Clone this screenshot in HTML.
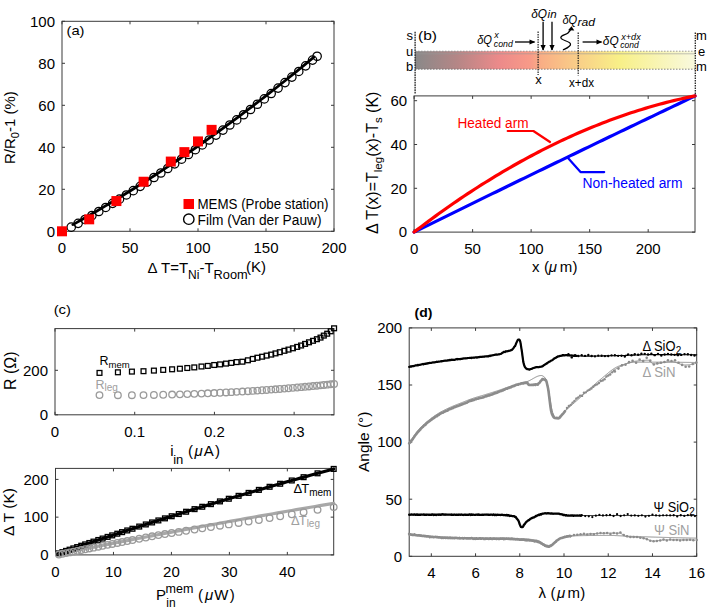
<!DOCTYPE html>
<html><head><meta charset="utf-8"><style>
html,body{margin:0;padding:0;background:#fff;}
svg{display:block;font-family:"Liberation Sans",sans-serif;}
</style></head><body>
<svg width="709" height="608" viewBox="0 0 709 608">
<rect width="709" height="608" fill="#fff"/>
<rect x="62.00" y="21.30" width="272.00" height="210.00" fill="none" stroke="#3a3a3a" stroke-width="1"/>
<line x1="62.00" y1="231.30" x2="62.00" y2="228.30" stroke="#3a3a3a" stroke-width="1"/>
<line x1="62.00" y1="21.30" x2="62.00" y2="24.30" stroke="#3a3a3a" stroke-width="1"/>
<text x="62.00" y="252.60" font-size="15" text-anchor="middle" fill="#000">0</text>
<line x1="130.00" y1="231.30" x2="130.00" y2="228.30" stroke="#3a3a3a" stroke-width="1"/>
<line x1="130.00" y1="21.30" x2="130.00" y2="24.30" stroke="#3a3a3a" stroke-width="1"/>
<text x="130.00" y="252.60" font-size="15" text-anchor="middle" fill="#000">50</text>
<line x1="198.00" y1="231.30" x2="198.00" y2="228.30" stroke="#3a3a3a" stroke-width="1"/>
<line x1="198.00" y1="21.30" x2="198.00" y2="24.30" stroke="#3a3a3a" stroke-width="1"/>
<text x="198.00" y="252.60" font-size="15" text-anchor="middle" fill="#000">100</text>
<line x1="266.00" y1="231.30" x2="266.00" y2="228.30" stroke="#3a3a3a" stroke-width="1"/>
<line x1="266.00" y1="21.30" x2="266.00" y2="24.30" stroke="#3a3a3a" stroke-width="1"/>
<text x="266.00" y="252.60" font-size="15" text-anchor="middle" fill="#000">150</text>
<line x1="334.00" y1="231.30" x2="334.00" y2="228.30" stroke="#3a3a3a" stroke-width="1"/>
<line x1="334.00" y1="21.30" x2="334.00" y2="24.30" stroke="#3a3a3a" stroke-width="1"/>
<text x="334.00" y="252.60" font-size="15" text-anchor="middle" fill="#000">200</text>
<line x1="62.00" y1="231.30" x2="65.00" y2="231.30" stroke="#3a3a3a" stroke-width="1"/>
<line x1="334.00" y1="231.30" x2="331.00" y2="231.30" stroke="#3a3a3a" stroke-width="1"/>
<text x="55.00" y="236.60" font-size="15" text-anchor="end" fill="#000">0</text>
<line x1="62.00" y1="189.30" x2="65.00" y2="189.30" stroke="#3a3a3a" stroke-width="1"/>
<line x1="334.00" y1="189.30" x2="331.00" y2="189.30" stroke="#3a3a3a" stroke-width="1"/>
<text x="55.00" y="194.60" font-size="15" text-anchor="end" fill="#000">20</text>
<line x1="62.00" y1="147.30" x2="65.00" y2="147.30" stroke="#3a3a3a" stroke-width="1"/>
<line x1="334.00" y1="147.30" x2="331.00" y2="147.30" stroke="#3a3a3a" stroke-width="1"/>
<text x="55.00" y="152.60" font-size="15" text-anchor="end" fill="#000">40</text>
<line x1="62.00" y1="105.30" x2="65.00" y2="105.30" stroke="#3a3a3a" stroke-width="1"/>
<line x1="334.00" y1="105.30" x2="331.00" y2="105.30" stroke="#3a3a3a" stroke-width="1"/>
<text x="55.00" y="110.60" font-size="15" text-anchor="end" fill="#000">60</text>
<line x1="62.00" y1="63.30" x2="65.00" y2="63.30" stroke="#3a3a3a" stroke-width="1"/>
<line x1="334.00" y1="63.30" x2="331.00" y2="63.30" stroke="#3a3a3a" stroke-width="1"/>
<text x="55.00" y="68.60" font-size="15" text-anchor="end" fill="#000">80</text>
<line x1="62.00" y1="21.30" x2="65.00" y2="21.30" stroke="#3a3a3a" stroke-width="1"/>
<line x1="334.00" y1="21.30" x2="331.00" y2="21.30" stroke="#3a3a3a" stroke-width="1"/>
<text x="55.00" y="26.60" font-size="15" text-anchor="end" fill="#000">100</text>
<text x="66.50" y="34.50" font-size="13.5" fill="#000" textLength="18" lengthAdjust="spacingAndGlyphs">(a)</text>
<polyline points="72.88,224.63 76.96,222.36 81.04,220.06 85.12,217.75 89.20,215.42 93.28,213.07 97.36,210.70 101.44,208.31 105.52,205.90 109.60,203.47 113.68,201.02 117.76,198.55 121.84,196.07 125.92,193.56 130.00,191.03 134.08,188.49 138.16,185.93 142.24,183.34 146.32,180.74 150.40,178.12 154.48,175.48 158.56,172.81 162.64,170.13 166.72,167.43 170.80,164.72 174.88,161.98 178.96,159.22 183.04,156.44 187.12,153.65 191.20,150.83 195.28,148.00 199.36,145.14 203.44,142.27 207.52,139.37 211.60,136.46 215.68,133.53 219.76,130.58 223.84,127.61 227.92,124.62 232.00,121.61 236.08,118.58 240.16,115.53 244.24,112.46 248.32,109.38 252.40,106.27 256.48,103.15 260.56,100.00 264.64,96.84 268.72,93.65 272.80,90.45 276.88,87.23 280.96,83.99 285.04,80.73 289.12,77.45 293.20,74.15 297.28,70.83 301.36,67.49 305.44,64.13 309.52,60.76 313.60,57.36" fill="none" stroke="#000" stroke-width="2.8" stroke-linejoin="round" stroke-linecap="round"/>
<circle cx="71.23" cy="227.18" r="4.2" fill="none" stroke="#000" stroke-width="1.25"/>
<circle cx="78.13" cy="223.35" r="4.2" fill="none" stroke="#000" stroke-width="1.25"/>
<circle cx="85.02" cy="219.46" r="4.2" fill="none" stroke="#000" stroke-width="1.25"/>
<circle cx="91.92" cy="215.52" r="4.2" fill="none" stroke="#000" stroke-width="1.25"/>
<circle cx="98.81" cy="211.52" r="4.2" fill="none" stroke="#000" stroke-width="1.25"/>
<circle cx="105.71" cy="207.46" r="4.2" fill="none" stroke="#000" stroke-width="1.25"/>
<circle cx="112.60" cy="203.35" r="4.2" fill="none" stroke="#000" stroke-width="1.25"/>
<circle cx="119.50" cy="199.18" r="4.2" fill="none" stroke="#000" stroke-width="1.25"/>
<circle cx="126.39" cy="194.96" r="4.2" fill="none" stroke="#000" stroke-width="1.25"/>
<circle cx="133.29" cy="190.68" r="4.2" fill="none" stroke="#000" stroke-width="1.25"/>
<circle cx="140.18" cy="186.35" r="4.2" fill="none" stroke="#000" stroke-width="1.25"/>
<circle cx="147.08" cy="181.97" r="4.2" fill="none" stroke="#000" stroke-width="1.25"/>
<circle cx="153.97" cy="177.52" r="4.2" fill="none" stroke="#000" stroke-width="1.25"/>
<circle cx="160.87" cy="173.03" r="4.2" fill="none" stroke="#000" stroke-width="1.25"/>
<circle cx="167.76" cy="168.47" r="4.2" fill="none" stroke="#000" stroke-width="1.25"/>
<circle cx="174.66" cy="163.86" r="4.2" fill="none" stroke="#000" stroke-width="1.25"/>
<circle cx="181.56" cy="159.20" r="4.2" fill="none" stroke="#000" stroke-width="1.25"/>
<circle cx="188.45" cy="154.48" r="4.2" fill="none" stroke="#000" stroke-width="1.25"/>
<circle cx="195.35" cy="149.71" r="4.2" fill="none" stroke="#000" stroke-width="1.25"/>
<circle cx="202.24" cy="144.88" r="4.2" fill="none" stroke="#000" stroke-width="1.25"/>
<circle cx="209.14" cy="139.99" r="4.2" fill="none" stroke="#000" stroke-width="1.25"/>
<circle cx="216.03" cy="135.05" r="4.2" fill="none" stroke="#000" stroke-width="1.25"/>
<circle cx="222.93" cy="130.06" r="4.2" fill="none" stroke="#000" stroke-width="1.25"/>
<circle cx="229.82" cy="125.01" r="4.2" fill="none" stroke="#000" stroke-width="1.25"/>
<circle cx="236.72" cy="119.90" r="4.2" fill="none" stroke="#000" stroke-width="1.25"/>
<circle cx="243.61" cy="114.74" r="4.2" fill="none" stroke="#000" stroke-width="1.25"/>
<circle cx="250.51" cy="109.52" r="4.2" fill="none" stroke="#000" stroke-width="1.25"/>
<circle cx="257.40" cy="104.25" r="4.2" fill="none" stroke="#000" stroke-width="1.25"/>
<circle cx="264.30" cy="98.93" r="4.2" fill="none" stroke="#000" stroke-width="1.25"/>
<circle cx="271.19" cy="93.54" r="4.2" fill="none" stroke="#000" stroke-width="1.25"/>
<circle cx="278.09" cy="88.11" r="4.2" fill="none" stroke="#000" stroke-width="1.25"/>
<circle cx="284.98" cy="82.61" r="4.2" fill="none" stroke="#000" stroke-width="1.25"/>
<circle cx="291.88" cy="77.07" r="4.2" fill="none" stroke="#000" stroke-width="1.25"/>
<circle cx="298.77" cy="71.46" r="4.2" fill="none" stroke="#000" stroke-width="1.25"/>
<circle cx="305.67" cy="65.80" r="4.2" fill="none" stroke="#000" stroke-width="1.25"/>
<circle cx="312.56" cy="60.09" r="4.2" fill="none" stroke="#000" stroke-width="1.25"/>
<circle cx="317.12" cy="56.28" r="4.2" fill="none" stroke="#000" stroke-width="1.25"/>
<rect x="57.00" y="226.30" width="10" height="10" fill="#f00"/>
<rect x="84.20" y="214.33" width="10" height="10" fill="#f00"/>
<rect x="111.40" y="196.06" width="10" height="10" fill="#f00"/>
<rect x="138.60" y="176.74" width="10" height="10" fill="#f00"/>
<rect x="165.80" y="156.58" width="10" height="10" fill="#f00"/>
<rect x="179.40" y="147.13" width="10" height="10" fill="#f00"/>
<rect x="193.00" y="136.42" width="10" height="10" fill="#f00"/>
<rect x="206.60" y="124.87" width="10" height="10" fill="#f00"/>
<rect x="183.5" y="199" width="10.5" height="10" fill="#f00"/>
<circle cx="188.8" cy="219.2" r="5.2" fill="none" stroke="#000" stroke-width="1.4"/>
<text x="197.50" y="209.00" font-size="14" fill="#000" textLength="131" lengthAdjust="spacingAndGlyphs">MEMS (Probe station)</text>
<text x="197.50" y="224.50" font-size="14" fill="#000" textLength="124" lengthAdjust="spacingAndGlyphs">Film (Van der Pauw)</text>
<text transform="translate(14.5,164) rotate(-90)" font-size="15">R/R<tspan font-size="11" dy="4">0</tspan><tspan dy="-4">-1 (%)</tspan></text>
<text x="147.50" y="272.70" font-size="15" fill="#000">Δ</text>
<text x="161" y="272.7" font-size="15">T=T<tspan font-size="12" dy="6.5">Ni</tspan><tspan dy="-6.5">-T</tspan><tspan font-size="12.8" dy="6.5">Room</tspan></text>
<text x="246.00" y="272.00" font-size="15" fill="#000">(K)</text>
<rect x="414.10" y="95.90" width="280.90" height="136.20" fill="none" stroke="#3a3a3a" stroke-width="1"/>
<line x1="414.10" y1="232.10" x2="414.10" y2="229.10" stroke="#3a3a3a" stroke-width="1"/>
<line x1="414.10" y1="95.90" x2="414.10" y2="98.90" stroke="#3a3a3a" stroke-width="1"/>
<text x="414.10" y="253.60" font-size="15" text-anchor="middle" fill="#000">0</text>
<line x1="472.62" y1="232.10" x2="472.62" y2="229.10" stroke="#3a3a3a" stroke-width="1"/>
<line x1="472.62" y1="95.90" x2="472.62" y2="98.90" stroke="#3a3a3a" stroke-width="1"/>
<text x="472.62" y="253.60" font-size="15" text-anchor="middle" fill="#000">50</text>
<line x1="531.14" y1="232.10" x2="531.14" y2="229.10" stroke="#3a3a3a" stroke-width="1"/>
<line x1="531.14" y1="95.90" x2="531.14" y2="98.90" stroke="#3a3a3a" stroke-width="1"/>
<text x="531.14" y="253.60" font-size="15" text-anchor="middle" fill="#000">100</text>
<line x1="589.66" y1="232.10" x2="589.66" y2="229.10" stroke="#3a3a3a" stroke-width="1"/>
<line x1="589.66" y1="95.90" x2="589.66" y2="98.90" stroke="#3a3a3a" stroke-width="1"/>
<text x="589.66" y="253.60" font-size="15" text-anchor="middle" fill="#000">150</text>
<line x1="648.18" y1="232.10" x2="648.18" y2="229.10" stroke="#3a3a3a" stroke-width="1"/>
<line x1="648.18" y1="95.90" x2="648.18" y2="98.90" stroke="#3a3a3a" stroke-width="1"/>
<text x="648.18" y="253.60" font-size="15" text-anchor="middle" fill="#000">200</text>
<line x1="414.10" y1="232.10" x2="417.10" y2="232.10" stroke="#3a3a3a" stroke-width="1"/>
<line x1="695.00" y1="232.10" x2="692.00" y2="232.10" stroke="#3a3a3a" stroke-width="1"/>
<text x="407.10" y="237.40" font-size="15" text-anchor="end" fill="#000">0</text>
<line x1="414.10" y1="188.30" x2="417.10" y2="188.30" stroke="#3a3a3a" stroke-width="1"/>
<line x1="695.00" y1="188.30" x2="692.00" y2="188.30" stroke="#3a3a3a" stroke-width="1"/>
<text x="407.10" y="193.60" font-size="15" text-anchor="end" fill="#000">20</text>
<line x1="414.10" y1="144.50" x2="417.10" y2="144.50" stroke="#3a3a3a" stroke-width="1"/>
<line x1="695.00" y1="144.50" x2="692.00" y2="144.50" stroke="#3a3a3a" stroke-width="1"/>
<text x="407.10" y="149.80" font-size="15" text-anchor="end" fill="#000">40</text>
<line x1="414.10" y1="100.70" x2="417.10" y2="100.70" stroke="#3a3a3a" stroke-width="1"/>
<line x1="695.00" y1="100.70" x2="692.00" y2="100.70" stroke="#3a3a3a" stroke-width="1"/>
<text x="407.10" y="106.00" font-size="15" text-anchor="end" fill="#000">60</text>
<polyline points="414.10,232.10 417.66,230.35 421.21,228.59 424.77,226.84 428.32,225.09 431.88,223.33 435.43,221.58 438.99,219.83 442.55,218.09 446.10,216.34 449.66,214.59 453.21,212.84 456.77,211.10 460.32,209.35 463.88,207.61 467.44,205.86 470.99,204.12 474.55,202.38 478.10,200.64 481.66,198.90 485.21,197.16 488.77,195.42 492.33,193.68 495.88,191.95 499.44,190.21 502.99,188.48 506.55,186.74 510.10,185.01 513.66,183.27 517.22,181.54 520.77,179.81 524.33,178.08 527.88,176.35 531.44,174.62 534.99,172.89 538.55,171.17 542.11,169.44 545.66,167.71 549.22,165.99 552.77,164.27 556.33,162.54 559.88,160.82 563.44,159.10 566.99,157.38 570.55,155.66 574.11,153.94 577.66,152.22 581.22,150.50 584.77,148.79 588.33,147.07 591.88,145.36 595.44,143.64 599.00,141.93 602.55,140.21 606.11,138.50 609.66,136.79 613.22,135.08 616.77,133.37 620.33,131.66 623.89,129.96 627.44,128.25 631.00,126.54 634.55,124.84 638.11,123.13 641.66,121.43 645.22,119.73 648.78,118.02 652.33,116.32 655.89,114.62 659.44,112.92 663.00,111.22 666.55,109.53 670.11,107.83 673.67,106.13 677.22,104.44 680.78,102.74 684.33,101.05 687.89,99.35 691.44,97.66 695.00,95.97" fill="none" stroke="#0000ff" stroke-width="3.2" stroke-linejoin="round" stroke-linecap="round"/>
<polyline points="414.10,232.10 417.66,229.38 421.21,226.68 424.77,224.00 428.32,221.35 431.88,218.73 435.43,216.14 438.99,213.56 442.55,211.02 446.10,208.50 449.66,206.01 453.21,203.54 456.77,201.09 460.32,198.68 463.88,196.29 467.44,193.92 470.99,191.58 474.55,189.27 478.10,186.98 481.66,184.72 485.21,182.48 488.77,180.27 492.33,178.08 495.88,175.92 499.44,173.79 502.99,171.68 506.55,169.59 510.10,167.54 513.66,165.50 517.22,163.50 520.77,161.52 524.33,159.56 527.88,157.63 531.44,155.73 534.99,153.85 538.55,152.00 542.11,150.17 545.66,148.37 549.22,146.60 552.77,144.85 556.33,143.12 559.88,141.43 563.44,139.75 566.99,138.11 570.55,136.49 574.11,134.89 577.66,133.32 581.22,131.78 584.77,130.26 588.33,128.77 591.88,127.30 595.44,125.86 599.00,124.44 602.55,123.05 606.11,121.69 609.66,120.35 613.22,119.03 616.77,117.75 620.33,116.48 623.89,115.25 627.44,114.04 631.00,112.85 634.55,111.69 638.11,110.56 641.66,109.45 645.22,108.37 648.78,107.31 652.33,106.28 655.89,105.28 659.44,104.30 663.00,103.35 666.55,102.42 670.11,101.52 673.67,100.64 677.22,99.79 680.78,98.96 684.33,98.16 687.89,97.39 691.44,96.64 695.00,95.92" fill="none" stroke="#ff0000" stroke-width="3.2" stroke-linejoin="round" stroke-linecap="round"/>
<text x="457.50" y="128.30" font-size="14" fill="#f00" textLength="71" lengthAdjust="spacingAndGlyphs">Heated arm</text>
<polyline points="507.70,131.00 533.40,131.00 550.00,142.00" fill="none" stroke="#f00" stroke-width="2.2" stroke-linejoin="round" stroke-linecap="round"/>
<text x="582.50" y="187.50" font-size="14" fill="#00f" textLength="100" lengthAdjust="spacingAndGlyphs">Non-heated arm</text>
<polyline points="568.00,158.00 580.50,172.10 604.20,172.10" fill="none" stroke="#00f" stroke-width="2.2" stroke-linejoin="round" stroke-linecap="round"/>
<defs><linearGradient id="gbar" x1="0" x2="1" y1="0" y2="0">
<stop offset="0" stop-color="#898989"/><stop offset="0.15" stop-color="#b58686"/><stop offset="0.30" stop-color="#ec8a8a"/>
<stop offset="0.41" stop-color="#f89a88"/><stop offset="0.45" stop-color="#f9ae85"/><stop offset="0.57" stop-color="#f9cc88"/><stop offset="0.73" stop-color="#f8f088"/><stop offset="1" stop-color="#f9f9df"/></linearGradient></defs>
<rect x="415" y="51.2" width="280.5" height="18" fill="url(#gbar)"/>
<line x1="415.00" y1="51.20" x2="695.50" y2="51.20" stroke="#888" stroke-width="0.8" stroke-dasharray="1.5,1.5"/>
<line x1="415.00" y1="53.80" x2="695.50" y2="53.80" stroke="#999" stroke-width="0.6"/>
<line x1="415.00" y1="69.20" x2="695.50" y2="69.20" stroke="#666" stroke-width="0.8" stroke-dasharray="1.5,1.5"/>
<line x1="415.10" y1="31.80" x2="415.10" y2="93.50" stroke="#222" stroke-width="1.3" stroke-dasharray="1.6,0.9"/>
<line x1="695.30" y1="32.50" x2="695.30" y2="95.50" stroke="#222" stroke-width="1.3" stroke-dasharray="1.6,0.9"/>
<line x1="538.10" y1="31.60" x2="538.10" y2="75.00" stroke="#222" stroke-width="1.2" stroke-dasharray="1.4,1.1"/>
<line x1="578.20" y1="32.60" x2="578.20" y2="75.60" stroke="#222" stroke-width="1.2" stroke-dasharray="1.4,1.1"/>
<text x="409.70" y="39.80" font-size="13" text-anchor="middle" fill="#000">s</text>
<text x="409.70" y="55.90" font-size="13" text-anchor="middle" fill="#000">u</text>
<text x="409.70" y="71.30" font-size="13" text-anchor="middle" fill="#000">b</text>
<text x="701.50" y="39.80" font-size="13" text-anchor="middle" fill="#000">m</text>
<text x="701.50" y="56.00" font-size="13" text-anchor="middle" fill="#000">e</text>
<text x="701.50" y="71.30" font-size="13" text-anchor="middle" fill="#000">m</text>
<text x="418.00" y="39.80" font-size="13.5" fill="#000" textLength="19" lengthAdjust="spacingAndGlyphs">(b)</text>
<text x="538.50" y="84.00" font-size="13" text-anchor="middle" fill="#000">x</text>
<text x="581.50" y="86.50" font-size="13" text-anchor="middle" fill="#000" textLength="25" lengthAdjust="spacingAndGlyphs">x+dx</text>
<line x1="515.00" y1="42.00" x2="534.50" y2="42.00" stroke="#000" stroke-width="1.3"/>
<polygon points="535.30,42.00 529.50,44.60 529.50,39.40" fill="#000"/>
<line x1="543.10" y1="21.70" x2="543.10" y2="50.00" stroke="#000" stroke-width="1.3"/>
<polygon points="543.10,50.80 540.50,45.00 545.70,45.00" fill="#000"/>
<line x1="552.00" y1="21.70" x2="552.00" y2="50.00" stroke="#000" stroke-width="1.3"/>
<polygon points="552.00,50.80 549.40,45.00 554.60,45.00" fill="#000"/>
<line x1="582.60" y1="42.00" x2="601.50" y2="42.00" stroke="#000" stroke-width="1.3"/>
<polygon points="602.30,42.00 596.50,44.60 596.50,39.40" fill="#000"/>
<path d="M563,50 C566,48.5 571,46.5 570.5,44 C570,41 561,40.5 560.8,37.8 C560.6,35 566,34.8 568,33 C569.5,31.6 570.6,30 571,28.5" fill="none" stroke="#000" stroke-width="1.25"/>
<polygon points="571.5,26.3 568,30.3 574.3,30.5" fill="#000"/>
<text x="477.20" y="43.60" font-size="12.5" font-style="italic" textLength="14.8" lengthAdjust="spacingAndGlyphs">δQ</text>
<text x="494.30" y="38.20" font-size="9" font-style="italic">x</text>
<text x="493.80" y="46.60" font-size="9" font-style="italic" textLength="19" lengthAdjust="spacingAndGlyphs">cond</text>
<text x="531.20" y="17.60" font-size="12.5" font-style="italic" textLength="15.8" lengthAdjust="spacingAndGlyphs">δQ</text>
<text x="547.60" y="18.20" font-size="11.5" font-style="italic" textLength="9" lengthAdjust="spacingAndGlyphs">in</text>
<text x="562.40" y="24.00" font-size="12.5" font-style="italic" textLength="14.8" lengthAdjust="spacingAndGlyphs">δQ</text>
<text x="577.60" y="25.60" font-size="11.5" font-style="italic" textLength="17.5" lengthAdjust="spacingAndGlyphs">rad</text>
<text x="602.80" y="44.80" font-size="12.5" font-style="italic" textLength="15.8" lengthAdjust="spacingAndGlyphs">δQ</text>
<text x="621.20" y="39.60" font-size="9" font-style="italic" textLength="19.5" lengthAdjust="spacingAndGlyphs">x+dx</text>
<text x="620.20" y="47.50" font-size="9" font-style="italic" textLength="18.5" lengthAdjust="spacingAndGlyphs">cond</text>
<text transform="translate(378,234) rotate(-90)" font-size="16">Δ T(x)=T<tspan font-size="11.5" dy="4">leg</tspan><tspan dy="-4">(x)-T</tspan><tspan font-size="11.5" dy="4">s</tspan><tspan dy="-4"> (K)</tspan></text>
<text x="535.80" y="272.40" font-size="15" text-anchor="middle" fill="#000">x</text>
<text x="546.60" y="272.40" font-size="15" text-anchor="middle" fill="#000">(</text>
<text x="552.90" y="272.40" font-size="15" text-anchor="middle" fill="#000" style="font-style:italic">μ</text>
<text x="566.00" y="272.40" font-size="15" text-anchor="middle" fill="#000">m</text>
<text x="575.00" y="272.40" font-size="15" text-anchor="middle" fill="#000">)</text>
<rect x="55.00" y="328.60" width="279.00" height="86.20" fill="none" stroke="#3a3a3a" stroke-width="1"/>
<line x1="55.00" y1="414.80" x2="55.00" y2="411.80" stroke="#3a3a3a" stroke-width="1"/>
<line x1="55.00" y1="328.60" x2="55.00" y2="331.60" stroke="#3a3a3a" stroke-width="1"/>
<text x="55.00" y="436.80" font-size="15" text-anchor="middle" fill="#000">0</text>
<line x1="134.71" y1="414.80" x2="134.71" y2="411.80" stroke="#3a3a3a" stroke-width="1"/>
<line x1="134.71" y1="328.60" x2="134.71" y2="331.60" stroke="#3a3a3a" stroke-width="1"/>
<text x="134.71" y="436.80" font-size="15" text-anchor="middle" fill="#000">0.1</text>
<line x1="214.43" y1="414.80" x2="214.43" y2="411.80" stroke="#3a3a3a" stroke-width="1"/>
<line x1="214.43" y1="328.60" x2="214.43" y2="331.60" stroke="#3a3a3a" stroke-width="1"/>
<text x="214.43" y="436.80" font-size="15" text-anchor="middle" fill="#000">0.2</text>
<line x1="294.14" y1="414.80" x2="294.14" y2="411.80" stroke="#3a3a3a" stroke-width="1"/>
<line x1="294.14" y1="328.60" x2="294.14" y2="331.60" stroke="#3a3a3a" stroke-width="1"/>
<text x="294.14" y="436.80" font-size="15" text-anchor="middle" fill="#000">0.3</text>
<line x1="55.00" y1="414.80" x2="58.00" y2="414.80" stroke="#3a3a3a" stroke-width="1"/>
<line x1="334.00" y1="414.80" x2="331.00" y2="414.80" stroke="#3a3a3a" stroke-width="1"/>
<text x="48.00" y="420.10" font-size="15" text-anchor="end" fill="#000">0</text>
<line x1="55.00" y1="370.30" x2="58.00" y2="370.30" stroke="#3a3a3a" stroke-width="1"/>
<line x1="334.00" y1="370.30" x2="331.00" y2="370.30" stroke="#3a3a3a" stroke-width="1"/>
<text x="48.00" y="375.60" font-size="15" text-anchor="end" fill="#000">200</text>
<text x="53.70" y="313.60" font-size="13" fill="#000" textLength="17.3" lengthAdjust="spacingAndGlyphs">(c)</text>
<rect x="97.10" y="370.50" width="4.8" height="4.8" fill="none" stroke="#000" stroke-width="1.3"/>
<rect x="115.50" y="369.90" width="4.8" height="4.8" fill="none" stroke="#000" stroke-width="1.3"/>
<rect x="129.50" y="369.20" width="4.8" height="4.8" fill="none" stroke="#000" stroke-width="1.3"/>
<rect x="141.10" y="368.80" width="4.8" height="4.8" fill="none" stroke="#000" stroke-width="1.3"/>
<rect x="151.50" y="368.20" width="4.8" height="4.8" fill="none" stroke="#000" stroke-width="1.3"/>
<rect x="160.80" y="367.50" width="4.8" height="4.8" fill="none" stroke="#000" stroke-width="1.3"/>
<rect x="169.70" y="366.90" width="4.8" height="4.8" fill="none" stroke="#000" stroke-width="1.3"/>
<rect x="177.50" y="366.30" width="4.8" height="4.8" fill="none" stroke="#000" stroke-width="1.3"/>
<rect x="184.90" y="365.60" width="4.8" height="4.8" fill="none" stroke="#000" stroke-width="1.3"/>
<rect x="191.90" y="365.00" width="4.8" height="4.8" fill="none" stroke="#000" stroke-width="1.3"/>
<rect x="199.10" y="364.10" width="4.8" height="4.8" fill="none" stroke="#000" stroke-width="1.3"/>
<rect x="205.40" y="363.50" width="4.8" height="4.8" fill="none" stroke="#000" stroke-width="1.3"/>
<rect x="211.80" y="362.60" width="4.8" height="4.8" fill="none" stroke="#000" stroke-width="1.3"/>
<rect x="217.70" y="362.00" width="4.8" height="4.8" fill="none" stroke="#000" stroke-width="1.3"/>
<rect x="223.60" y="361.20" width="4.8" height="4.8" fill="none" stroke="#000" stroke-width="1.3"/>
<rect x="228.90" y="360.50" width="4.8" height="4.8" fill="none" stroke="#000" stroke-width="1.3"/>
<rect x="234.20" y="359.70" width="4.8" height="4.8" fill="none" stroke="#000" stroke-width="1.3"/>
<rect x="240.00" y="359.30" width="4.8" height="4.8" fill="none" stroke="#000" stroke-width="1.3"/>
<rect x="245.50" y="357.90" width="4.8" height="4.8" fill="none" stroke="#000" stroke-width="1.3"/>
<rect x="250.40" y="356.50" width="4.8" height="4.8" fill="none" stroke="#000" stroke-width="1.3"/>
<rect x="255.00" y="355.30" width="4.8" height="4.8" fill="none" stroke="#000" stroke-width="1.3"/>
<rect x="259.70" y="354.30" width="4.8" height="4.8" fill="none" stroke="#000" stroke-width="1.3"/>
<rect x="264.20" y="353.20" width="4.8" height="4.8" fill="none" stroke="#000" stroke-width="1.3"/>
<rect x="268.80" y="352.20" width="4.8" height="4.8" fill="none" stroke="#000" stroke-width="1.3"/>
<rect x="273.10" y="351.00" width="4.8" height="4.8" fill="none" stroke="#000" stroke-width="1.3"/>
<rect x="277.40" y="349.80" width="4.8" height="4.8" fill="none" stroke="#000" stroke-width="1.3"/>
<rect x="282.00" y="348.40" width="4.8" height="4.8" fill="none" stroke="#000" stroke-width="1.3"/>
<rect x="286.10" y="347.20" width="4.8" height="4.8" fill="none" stroke="#000" stroke-width="1.3"/>
<rect x="290.50" y="345.90" width="4.8" height="4.8" fill="none" stroke="#000" stroke-width="1.3"/>
<rect x="294.80" y="344.50" width="4.8" height="4.8" fill="none" stroke="#000" stroke-width="1.3"/>
<rect x="298.70" y="343.10" width="4.8" height="4.8" fill="none" stroke="#000" stroke-width="1.3"/>
<rect x="302.70" y="341.50" width="4.8" height="4.8" fill="none" stroke="#000" stroke-width="1.3"/>
<rect x="306.60" y="339.90" width="4.8" height="4.8" fill="none" stroke="#000" stroke-width="1.3"/>
<rect x="310.60" y="338.40" width="4.8" height="4.8" fill="none" stroke="#000" stroke-width="1.3"/>
<rect x="314.50" y="336.80" width="4.8" height="4.8" fill="none" stroke="#000" stroke-width="1.3"/>
<rect x="318.10" y="335.20" width="4.8" height="4.8" fill="none" stroke="#000" stroke-width="1.3"/>
<rect x="321.40" y="333.20" width="4.8" height="4.8" fill="none" stroke="#000" stroke-width="1.3"/>
<rect x="324.80" y="331.30" width="4.8" height="4.8" fill="none" stroke="#000" stroke-width="1.3"/>
<rect x="328.30" y="328.90" width="4.8" height="4.8" fill="none" stroke="#000" stroke-width="1.3"/>
<rect x="331.70" y="325.90" width="4.8" height="4.8" fill="none" stroke="#000" stroke-width="1.3"/>
<circle cx="99.50" cy="395.11" r="3.3" fill="none" stroke="#9a9a9a" stroke-width="1.3"/>
<circle cx="117.90" cy="395.21" r="3.3" fill="none" stroke="#9a9a9a" stroke-width="1.3"/>
<circle cx="131.90" cy="395.18" r="3.3" fill="none" stroke="#9a9a9a" stroke-width="1.3"/>
<circle cx="143.50" cy="395.08" r="3.3" fill="none" stroke="#9a9a9a" stroke-width="1.3"/>
<circle cx="153.90" cy="394.93" r="3.3" fill="none" stroke="#9a9a9a" stroke-width="1.3"/>
<circle cx="163.20" cy="394.75" r="3.3" fill="none" stroke="#9a9a9a" stroke-width="1.3"/>
<circle cx="172.10" cy="394.55" r="3.3" fill="none" stroke="#9a9a9a" stroke-width="1.3"/>
<circle cx="179.90" cy="394.33" r="3.3" fill="none" stroke="#9a9a9a" stroke-width="1.3"/>
<circle cx="187.30" cy="394.10" r="3.3" fill="none" stroke="#9a9a9a" stroke-width="1.3"/>
<circle cx="194.30" cy="393.86" r="3.3" fill="none" stroke="#9a9a9a" stroke-width="1.3"/>
<circle cx="201.50" cy="393.58" r="3.3" fill="none" stroke="#9a9a9a" stroke-width="1.3"/>
<circle cx="207.80" cy="393.32" r="3.3" fill="none" stroke="#9a9a9a" stroke-width="1.3"/>
<circle cx="214.20" cy="393.03" r="3.3" fill="none" stroke="#9a9a9a" stroke-width="1.3"/>
<circle cx="220.10" cy="392.75" r="3.3" fill="none" stroke="#9a9a9a" stroke-width="1.3"/>
<circle cx="226.00" cy="392.45" r="3.3" fill="none" stroke="#9a9a9a" stroke-width="1.3"/>
<circle cx="231.30" cy="392.17" r="3.3" fill="none" stroke="#9a9a9a" stroke-width="1.3"/>
<circle cx="236.60" cy="391.87" r="3.3" fill="none" stroke="#9a9a9a" stroke-width="1.3"/>
<circle cx="242.40" cy="391.53" r="3.3" fill="none" stroke="#9a9a9a" stroke-width="1.3"/>
<circle cx="247.90" cy="391.20" r="3.3" fill="none" stroke="#9a9a9a" stroke-width="1.3"/>
<circle cx="252.80" cy="390.88" r="3.3" fill="none" stroke="#9a9a9a" stroke-width="1.3"/>
<circle cx="257.40" cy="390.58" r="3.3" fill="none" stroke="#9a9a9a" stroke-width="1.3"/>
<circle cx="262.10" cy="390.25" r="3.3" fill="none" stroke="#9a9a9a" stroke-width="1.3"/>
<circle cx="266.60" cy="389.94" r="3.3" fill="none" stroke="#9a9a9a" stroke-width="1.3"/>
<circle cx="271.20" cy="389.60" r="3.3" fill="none" stroke="#9a9a9a" stroke-width="1.3"/>
<circle cx="275.50" cy="389.28" r="3.3" fill="none" stroke="#9a9a9a" stroke-width="1.3"/>
<circle cx="279.80" cy="388.94" r="3.3" fill="none" stroke="#9a9a9a" stroke-width="1.3"/>
<circle cx="284.40" cy="388.58" r="3.3" fill="none" stroke="#9a9a9a" stroke-width="1.3"/>
<circle cx="288.50" cy="388.24" r="3.3" fill="none" stroke="#9a9a9a" stroke-width="1.3"/>
<circle cx="292.90" cy="387.87" r="3.3" fill="none" stroke="#9a9a9a" stroke-width="1.3"/>
<circle cx="297.20" cy="387.50" r="3.3" fill="none" stroke="#9a9a9a" stroke-width="1.3"/>
<circle cx="301.10" cy="387.16" r="3.3" fill="none" stroke="#9a9a9a" stroke-width="1.3"/>
<circle cx="305.10" cy="386.80" r="3.3" fill="none" stroke="#9a9a9a" stroke-width="1.3"/>
<circle cx="309.00" cy="386.44" r="3.3" fill="none" stroke="#9a9a9a" stroke-width="1.3"/>
<circle cx="313.00" cy="386.07" r="3.3" fill="none" stroke="#9a9a9a" stroke-width="1.3"/>
<circle cx="316.90" cy="385.69" r="3.3" fill="none" stroke="#9a9a9a" stroke-width="1.3"/>
<circle cx="320.50" cy="385.34" r="3.3" fill="none" stroke="#9a9a9a" stroke-width="1.3"/>
<circle cx="323.80" cy="385.01" r="3.3" fill="none" stroke="#9a9a9a" stroke-width="1.3"/>
<circle cx="327.20" cy="384.67" r="3.3" fill="none" stroke="#9a9a9a" stroke-width="1.3"/>
<circle cx="330.70" cy="384.31" r="3.3" fill="none" stroke="#9a9a9a" stroke-width="1.3"/>
<circle cx="334.10" cy="383.96" r="3.3" fill="none" stroke="#9a9a9a" stroke-width="1.3"/>
<text x="99.5" y="365" font-size="12.5">R<tspan font-size="9.5" dy="2.5">mem</tspan></text>
<text x="95.5" y="388.5" font-size="12.5" fill="#a0a0a0">R<tspan font-size="10" dy="2.5">leg</tspan></text>
<text transform="translate(16,390) rotate(-90)" font-size="16">R (Ω)</text>
<text x="171.80" y="456.30" font-size="15" text-anchor="middle" fill="#000">i</text>
<text x="178.20" y="463.70" font-size="13" text-anchor="middle" fill="#000">in</text>
<text x="190.60" y="456.30" font-size="15" text-anchor="middle" fill="#000">(</text>
<text x="198.70" y="456.30" font-size="15" text-anchor="middle" fill="#000" style="font-style:italic">μ</text>
<text x="208.80" y="456.30" font-size="15" text-anchor="middle" fill="#000">A</text>
<text x="217.50" y="456.30" font-size="15" text-anchor="middle" fill="#000">)</text>
<rect x="55.50" y="468.40" width="278.20" height="86.50" fill="none" stroke="#3a3a3a" stroke-width="1"/>
<line x1="55.50" y1="554.90" x2="55.50" y2="551.90" stroke="#3a3a3a" stroke-width="1"/>
<line x1="55.50" y1="468.40" x2="55.50" y2="471.40" stroke="#3a3a3a" stroke-width="1"/>
<text x="55.50" y="576.70" font-size="15" text-anchor="middle" fill="#000">0</text>
<line x1="113.46" y1="554.90" x2="113.46" y2="551.90" stroke="#3a3a3a" stroke-width="1"/>
<line x1="113.46" y1="468.40" x2="113.46" y2="471.40" stroke="#3a3a3a" stroke-width="1"/>
<text x="113.46" y="576.70" font-size="15" text-anchor="middle" fill="#000">10</text>
<line x1="171.42" y1="554.90" x2="171.42" y2="551.90" stroke="#3a3a3a" stroke-width="1"/>
<line x1="171.42" y1="468.40" x2="171.42" y2="471.40" stroke="#3a3a3a" stroke-width="1"/>
<text x="171.42" y="576.70" font-size="15" text-anchor="middle" fill="#000">20</text>
<line x1="229.38" y1="554.90" x2="229.38" y2="551.90" stroke="#3a3a3a" stroke-width="1"/>
<line x1="229.38" y1="468.40" x2="229.38" y2="471.40" stroke="#3a3a3a" stroke-width="1"/>
<text x="229.38" y="576.70" font-size="15" text-anchor="middle" fill="#000">30</text>
<line x1="287.33" y1="554.90" x2="287.33" y2="551.90" stroke="#3a3a3a" stroke-width="1"/>
<line x1="287.33" y1="468.40" x2="287.33" y2="471.40" stroke="#3a3a3a" stroke-width="1"/>
<text x="287.33" y="576.70" font-size="15" text-anchor="middle" fill="#000">40</text>
<line x1="55.50" y1="554.90" x2="58.50" y2="554.90" stroke="#3a3a3a" stroke-width="1"/>
<line x1="333.70" y1="554.90" x2="330.70" y2="554.90" stroke="#3a3a3a" stroke-width="1"/>
<text x="48.50" y="560.20" font-size="15" text-anchor="end" fill="#000">0</text>
<line x1="55.50" y1="517.15" x2="58.50" y2="517.15" stroke="#3a3a3a" stroke-width="1"/>
<line x1="333.70" y1="517.15" x2="330.70" y2="517.15" stroke="#3a3a3a" stroke-width="1"/>
<text x="48.50" y="522.45" font-size="15" text-anchor="end" fill="#000">100</text>
<line x1="55.50" y1="479.40" x2="58.50" y2="479.40" stroke="#3a3a3a" stroke-width="1"/>
<line x1="333.70" y1="479.40" x2="330.70" y2="479.40" stroke="#3a3a3a" stroke-width="1"/>
<text x="48.50" y="484.70" font-size="15" text-anchor="end" fill="#000">200</text>
<polyline points="58.40,554.13 63.06,553.19 67.73,552.25 72.40,551.32 77.06,550.39 81.73,549.46 86.39,548.53 91.06,547.61 95.73,546.69 100.39,545.77 105.06,544.86 109.73,543.94 114.39,543.03 119.06,542.13 123.72,541.22 128.39,540.32 133.06,539.42 137.72,538.53 142.39,537.63 147.05,536.74 151.72,535.86 156.39,534.97 161.05,534.09 165.72,533.21 170.39,532.33 175.05,531.46 179.72,530.58 184.38,529.71 189.05,528.85 193.72,527.98 198.38,527.12 203.05,526.27 207.71,525.41 212.38,524.56 217.05,523.71 221.71,522.86 226.38,522.01 231.04,521.17 235.71,520.33 240.38,519.49 245.04,518.66 249.71,517.83 254.38,517.00 259.04,516.17 263.71,515.35 268.37,514.53 273.04,513.71 277.71,512.90 282.37,512.08 287.04,511.27 291.70,510.47 296.37,509.66 301.04,508.86 305.70,508.06 310.37,507.26 315.04,506.47 319.70,505.68 324.37,504.89 329.03,504.11 333.70,503.32" fill="none" stroke="#a8a8a8" stroke-width="3.2" stroke-linejoin="round" stroke-linecap="round"/>
<polyline points="58.40,553.52 63.06,551.92 67.73,550.32 72.40,548.73 77.06,547.14 81.73,545.56 86.39,543.99 91.06,542.42 95.73,540.85 100.39,539.30 105.06,537.75 109.73,536.20 114.39,534.66 119.06,533.13 123.72,531.60 128.39,530.08 133.06,528.56 137.72,527.05 142.39,525.55 147.05,524.05 151.72,522.56 156.39,521.07 161.05,519.59 165.72,518.11 170.39,516.64 175.05,515.18 179.72,513.72 184.38,512.27 189.05,510.83 193.72,509.39 198.38,507.95 203.05,506.52 207.71,505.10 212.38,503.69 217.05,502.28 221.71,500.87 226.38,499.47 231.04,498.08 235.71,496.69 240.38,495.31 245.04,493.94 249.71,492.57 254.38,491.20 259.04,489.85 263.71,488.49 268.37,487.15 273.04,485.81 277.71,484.47 282.37,483.15 287.04,481.82 291.70,480.51 296.37,479.20 301.04,477.89 305.70,476.59 310.37,475.30 315.04,474.01 319.70,472.73 324.37,471.46 329.03,470.19 333.70,468.92" fill="none" stroke="#000" stroke-width="3.2" stroke-linejoin="round" stroke-linecap="round"/>
<rect x="56.53" y="550.94" width="4.8" height="4.8" fill="none" stroke="#000" stroke-width="1.3"/>
<rect x="60.04" y="549.73" width="4.8" height="4.8" fill="none" stroke="#000" stroke-width="1.3"/>
<rect x="63.65" y="548.50" width="4.8" height="4.8" fill="none" stroke="#000" stroke-width="1.3"/>
<rect x="67.20" y="547.28" width="4.8" height="4.8" fill="none" stroke="#000" stroke-width="1.3"/>
<rect x="70.95" y="546.00" width="4.8" height="4.8" fill="none" stroke="#000" stroke-width="1.3"/>
<rect x="74.80" y="544.69" width="4.8" height="4.8" fill="none" stroke="#000" stroke-width="1.3"/>
<rect x="78.86" y="543.32" width="4.8" height="4.8" fill="none" stroke="#000" stroke-width="1.3"/>
<rect x="82.79" y="541.99" width="4.8" height="4.8" fill="none" stroke="#000" stroke-width="1.3"/>
<rect x="86.92" y="540.60" width="4.8" height="4.8" fill="none" stroke="#000" stroke-width="1.3"/>
<rect x="91.08" y="539.21" width="4.8" height="4.8" fill="none" stroke="#000" stroke-width="1.3"/>
<rect x="95.90" y="537.59" width="4.8" height="4.8" fill="none" stroke="#000" stroke-width="1.3"/>
<rect x="100.24" y="536.15" width="4.8" height="4.8" fill="none" stroke="#000" stroke-width="1.3"/>
<rect x="105.21" y="534.50" width="4.8" height="4.8" fill="none" stroke="#000" stroke-width="1.3"/>
<rect x="109.82" y="532.98" width="4.8" height="4.8" fill="none" stroke="#000" stroke-width="1.3"/>
<rect x="114.91" y="531.30" width="4.8" height="4.8" fill="none" stroke="#000" stroke-width="1.3"/>
<rect x="119.70" y="529.73" width="4.8" height="4.8" fill="none" stroke="#000" stroke-width="1.3"/>
<rect x="124.86" y="528.05" width="4.8" height="4.8" fill="none" stroke="#000" stroke-width="1.3"/>
<rect x="130.09" y="526.34" width="4.8" height="4.8" fill="none" stroke="#000" stroke-width="1.3"/>
<rect x="136.83" y="524.16" width="4.8" height="4.8" fill="none" stroke="#000" stroke-width="1.3"/>
<rect x="143.40" y="522.05" width="4.8" height="4.8" fill="none" stroke="#000" stroke-width="1.3"/>
<rect x="149.68" y="520.04" width="4.8" height="4.8" fill="none" stroke="#000" stroke-width="1.3"/>
<rect x="155.99" y="518.03" width="4.8" height="4.8" fill="none" stroke="#000" stroke-width="1.3"/>
<rect x="162.54" y="515.96" width="4.8" height="4.8" fill="none" stroke="#000" stroke-width="1.3"/>
<rect x="169.28" y="513.84" width="4.8" height="4.8" fill="none" stroke="#000" stroke-width="1.3"/>
<rect x="176.36" y="511.62" width="4.8" height="4.8" fill="none" stroke="#000" stroke-width="1.3"/>
<rect x="183.71" y="509.33" width="4.8" height="4.8" fill="none" stroke="#000" stroke-width="1.3"/>
<rect x="192.16" y="506.73" width="4.8" height="4.8" fill="none" stroke="#000" stroke-width="1.3"/>
<rect x="199.87" y="504.36" width="4.8" height="4.8" fill="none" stroke="#000" stroke-width="1.3"/>
<rect x="208.49" y="501.74" width="4.8" height="4.8" fill="none" stroke="#000" stroke-width="1.3"/>
<rect x="217.55" y="499.00" width="4.8" height="4.8" fill="none" stroke="#000" stroke-width="1.3"/>
<rect x="226.39" y="496.35" width="4.8" height="4.8" fill="none" stroke="#000" stroke-width="1.3"/>
<rect x="236.20" y="493.44" width="4.8" height="4.8" fill="none" stroke="#000" stroke-width="1.3"/>
<rect x="246.22" y="490.49" width="4.8" height="4.8" fill="none" stroke="#000" stroke-width="1.3"/>
<rect x="256.47" y="487.49" width="4.8" height="4.8" fill="none" stroke="#000" stroke-width="1.3"/>
<rect x="267.20" y="484.40" width="4.8" height="4.8" fill="none" stroke="#000" stroke-width="1.3"/>
<rect x="277.78" y="481.37" width="4.8" height="4.8" fill="none" stroke="#000" stroke-width="1.3"/>
<rect x="289.37" y="478.09" width="4.8" height="4.8" fill="none" stroke="#000" stroke-width="1.3"/>
<rect x="301.20" y="474.78" width="4.8" height="4.8" fill="none" stroke="#000" stroke-width="1.3"/>
<rect x="315.15" y="470.92" width="4.8" height="4.8" fill="none" stroke="#000" stroke-width="1.3"/>
<rect x="331.30" y="466.52" width="4.8" height="4.8" fill="none" stroke="#000" stroke-width="1.3"/>
<circle cx="58.93" cy="554.52" r="3.3" fill="none" stroke="#9a9a9a" stroke-width="1.3"/>
<circle cx="62.44" cy="553.81" r="3.3" fill="none" stroke="#9a9a9a" stroke-width="1.3"/>
<circle cx="66.05" cy="553.09" r="3.3" fill="none" stroke="#9a9a9a" stroke-width="1.3"/>
<circle cx="69.60" cy="552.38" r="3.3" fill="none" stroke="#9a9a9a" stroke-width="1.3"/>
<circle cx="73.35" cy="551.63" r="3.3" fill="none" stroke="#9a9a9a" stroke-width="1.3"/>
<circle cx="77.20" cy="550.86" r="3.3" fill="none" stroke="#9a9a9a" stroke-width="1.3"/>
<circle cx="81.26" cy="550.05" r="3.3" fill="none" stroke="#9a9a9a" stroke-width="1.3"/>
<circle cx="85.19" cy="549.27" r="3.3" fill="none" stroke="#9a9a9a" stroke-width="1.3"/>
<circle cx="89.32" cy="548.45" r="3.3" fill="none" stroke="#9a9a9a" stroke-width="1.3"/>
<circle cx="93.48" cy="547.63" r="3.3" fill="none" stroke="#9a9a9a" stroke-width="1.3"/>
<circle cx="98.30" cy="546.68" r="3.3" fill="none" stroke="#9a9a9a" stroke-width="1.3"/>
<circle cx="102.64" cy="545.83" r="3.3" fill="none" stroke="#9a9a9a" stroke-width="1.3"/>
<circle cx="107.61" cy="544.86" r="3.3" fill="none" stroke="#9a9a9a" stroke-width="1.3"/>
<circle cx="112.22" cy="543.96" r="3.3" fill="none" stroke="#9a9a9a" stroke-width="1.3"/>
<circle cx="117.31" cy="542.97" r="3.3" fill="none" stroke="#9a9a9a" stroke-width="1.3"/>
<circle cx="122.10" cy="542.04" r="3.3" fill="none" stroke="#9a9a9a" stroke-width="1.3"/>
<circle cx="127.26" cy="541.04" r="3.3" fill="none" stroke="#9a9a9a" stroke-width="1.3"/>
<circle cx="132.49" cy="540.03" r="3.3" fill="none" stroke="#9a9a9a" stroke-width="1.3"/>
<circle cx="139.23" cy="538.74" r="3.3" fill="none" stroke="#9a9a9a" stroke-width="1.3"/>
<circle cx="145.80" cy="537.48" r="3.3" fill="none" stroke="#9a9a9a" stroke-width="1.3"/>
<circle cx="152.08" cy="536.29" r="3.3" fill="none" stroke="#9a9a9a" stroke-width="1.3"/>
<circle cx="158.39" cy="535.09" r="3.3" fill="none" stroke="#9a9a9a" stroke-width="1.3"/>
<circle cx="164.94" cy="534.03" r="3.3" fill="none" stroke="#9a9a9a" stroke-width="1.3"/>
<circle cx="171.68" cy="532.98" r="3.3" fill="none" stroke="#9a9a9a" stroke-width="1.3"/>
<circle cx="178.76" cy="531.90" r="3.3" fill="none" stroke="#9a9a9a" stroke-width="1.3"/>
<circle cx="186.11" cy="530.77" r="3.3" fill="none" stroke="#9a9a9a" stroke-width="1.3"/>
<circle cx="194.56" cy="529.49" r="3.3" fill="none" stroke="#9a9a9a" stroke-width="1.3"/>
<circle cx="202.27" cy="528.33" r="3.3" fill="none" stroke="#9a9a9a" stroke-width="1.3"/>
<circle cx="210.89" cy="527.04" r="3.3" fill="none" stroke="#9a9a9a" stroke-width="1.3"/>
<circle cx="219.95" cy="525.69" r="3.3" fill="none" stroke="#9a9a9a" stroke-width="1.3"/>
<circle cx="228.79" cy="524.39" r="3.3" fill="none" stroke="#9a9a9a" stroke-width="1.3"/>
<circle cx="238.60" cy="522.95" r="3.3" fill="none" stroke="#9a9a9a" stroke-width="1.3"/>
<circle cx="248.62" cy="521.50" r="3.3" fill="none" stroke="#9a9a9a" stroke-width="1.3"/>
<circle cx="258.87" cy="520.00" r="3.3" fill="none" stroke="#9a9a9a" stroke-width="1.3"/>
<circle cx="269.60" cy="518.12" r="3.3" fill="none" stroke="#9a9a9a" stroke-width="1.3"/>
<circle cx="280.18" cy="516.27" r="3.3" fill="none" stroke="#9a9a9a" stroke-width="1.3"/>
<circle cx="291.77" cy="514.26" r="3.3" fill="none" stroke="#9a9a9a" stroke-width="1.3"/>
<circle cx="303.60" cy="512.22" r="3.3" fill="none" stroke="#9a9a9a" stroke-width="1.3"/>
<circle cx="317.55" cy="509.84" r="3.3" fill="none" stroke="#9a9a9a" stroke-width="1.3"/>
<circle cx="333.70" cy="507.12" r="3.3" fill="none" stroke="#9a9a9a" stroke-width="1.3"/>
<text x="293.5" y="493" font-size="13">Δ<tspan dx="-1">T</tspan><tspan font-size="10" dy="2.5">mem</tspan></text>
<text x="291" y="524.7" font-size="13" fill="#a0a0a0">Δ<tspan dx="-1">T</tspan><tspan font-size="10" dy="2.5">leg</tspan></text>
<text transform="translate(14,536) rotate(-90)" font-size="15.5">Δ T (K)</text>
<text x="161.10" y="599.70" font-size="15" text-anchor="middle" fill="#000">P</text>
<text x="171.00" y="606.50" font-size="12" text-anchor="middle" fill="#000">in</text>
<text x="179.50" y="592.70" font-size="12.5" text-anchor="middle" fill="#000">mem</text>
<text x="200.50" y="599.70" font-size="15" text-anchor="middle" fill="#000">(</text>
<text x="209.20" y="599.70" font-size="15" text-anchor="middle" fill="#000" style="font-style:italic">μ</text>
<text x="221.30" y="599.70" font-size="15" text-anchor="middle" fill="#000">W</text>
<text x="232.20" y="599.70" font-size="15" text-anchor="middle" fill="#000">)</text>
<rect x="409.20" y="327.90" width="287.50" height="228.40" fill="none" stroke="#3a3a3a" stroke-width="1"/>
<line x1="431.32" y1="556.30" x2="431.32" y2="553.30" stroke="#3a3a3a" stroke-width="1"/>
<line x1="431.32" y1="327.90" x2="431.32" y2="330.90" stroke="#3a3a3a" stroke-width="1"/>
<text x="431.32" y="577.80" font-size="15" text-anchor="middle" fill="#000">4</text>
<line x1="475.55" y1="556.30" x2="475.55" y2="553.30" stroke="#3a3a3a" stroke-width="1"/>
<line x1="475.55" y1="327.90" x2="475.55" y2="330.90" stroke="#3a3a3a" stroke-width="1"/>
<text x="475.55" y="577.80" font-size="15" text-anchor="middle" fill="#000">6</text>
<line x1="519.78" y1="556.30" x2="519.78" y2="553.30" stroke="#3a3a3a" stroke-width="1"/>
<line x1="519.78" y1="327.90" x2="519.78" y2="330.90" stroke="#3a3a3a" stroke-width="1"/>
<text x="519.78" y="577.80" font-size="15" text-anchor="middle" fill="#000">8</text>
<line x1="564.01" y1="556.30" x2="564.01" y2="553.30" stroke="#3a3a3a" stroke-width="1"/>
<line x1="564.01" y1="327.90" x2="564.01" y2="330.90" stroke="#3a3a3a" stroke-width="1"/>
<text x="564.01" y="577.80" font-size="15" text-anchor="middle" fill="#000">10</text>
<line x1="608.24" y1="556.30" x2="608.24" y2="553.30" stroke="#3a3a3a" stroke-width="1"/>
<line x1="608.24" y1="327.90" x2="608.24" y2="330.90" stroke="#3a3a3a" stroke-width="1"/>
<text x="608.24" y="577.80" font-size="15" text-anchor="middle" fill="#000">12</text>
<line x1="652.47" y1="556.30" x2="652.47" y2="553.30" stroke="#3a3a3a" stroke-width="1"/>
<line x1="652.47" y1="327.90" x2="652.47" y2="330.90" stroke="#3a3a3a" stroke-width="1"/>
<text x="652.47" y="577.80" font-size="15" text-anchor="middle" fill="#000">14</text>
<line x1="696.70" y1="556.30" x2="696.70" y2="553.30" stroke="#3a3a3a" stroke-width="1"/>
<line x1="696.70" y1="327.90" x2="696.70" y2="330.90" stroke="#3a3a3a" stroke-width="1"/>
<text x="696.70" y="577.80" font-size="15" text-anchor="middle" fill="#000">16</text>
<line x1="409.20" y1="556.30" x2="412.20" y2="556.30" stroke="#3a3a3a" stroke-width="1"/>
<line x1="696.70" y1="556.30" x2="693.70" y2="556.30" stroke="#3a3a3a" stroke-width="1"/>
<text x="402.20" y="561.60" font-size="15" text-anchor="end" fill="#000">0</text>
<line x1="409.20" y1="499.20" x2="412.20" y2="499.20" stroke="#3a3a3a" stroke-width="1"/>
<line x1="696.70" y1="499.20" x2="693.70" y2="499.20" stroke="#3a3a3a" stroke-width="1"/>
<text x="402.20" y="504.50" font-size="15" text-anchor="end" fill="#000">50</text>
<line x1="409.20" y1="442.10" x2="412.20" y2="442.10" stroke="#3a3a3a" stroke-width="1"/>
<line x1="696.70" y1="442.10" x2="693.70" y2="442.10" stroke="#3a3a3a" stroke-width="1"/>
<text x="402.20" y="447.40" font-size="15" text-anchor="end" fill="#000">100</text>
<line x1="409.20" y1="385.00" x2="412.20" y2="385.00" stroke="#3a3a3a" stroke-width="1"/>
<line x1="696.70" y1="385.00" x2="693.70" y2="385.00" stroke="#3a3a3a" stroke-width="1"/>
<text x="402.20" y="390.30" font-size="15" text-anchor="end" fill="#000">150</text>
<line x1="409.20" y1="327.90" x2="412.20" y2="327.90" stroke="#3a3a3a" stroke-width="1"/>
<line x1="696.70" y1="327.90" x2="693.70" y2="327.90" stroke="#3a3a3a" stroke-width="1"/>
<text x="402.20" y="333.20" font-size="15" text-anchor="end" fill="#000">200</text>
<text x="414.5" y="317.2" font-size="13" font-weight="bold" textLength="17.8" lengthAdjust="spacingAndGlyphs">(d)</text>
<polyline points="409.20,441.76 409.78,441.25 410.35,440.68 410.93,440.03 411.50,439.31 412.08,438.53 412.66,437.72 413.23,436.88 413.81,436.03 414.39,435.18 414.96,434.34 415.54,433.53 416.11,432.76 416.69,432.04 417.27,431.35 417.84,430.66 418.42,429.99 418.99,429.34 419.57,428.69 420.15,428.06 420.72,427.45 421.30,426.85 421.88,426.26 422.45,425.69 423.03,425.14 423.60,424.59 424.18,424.06 424.76,423.53 425.33,423.02 425.91,422.52 426.48,422.03 427.06,421.55 427.64,421.09 428.21,420.62 428.79,420.17 429.37,419.72 429.94,419.27 430.52,418.83 431.09,418.39 431.67,417.96 432.25,417.53 432.82,417.11 433.40,416.69 433.97,416.28 434.55,415.88 435.13,415.48 435.70,415.10 436.28,414.71 436.86,414.34 437.43,413.97 438.01,413.61 438.58,413.26 439.16,412.92 439.74,412.58 440.31,412.25 440.89,411.93 441.46,411.61 442.04,411.30 442.62,410.99 443.19,410.69 443.77,410.39 444.35,410.10 444.92,409.81 445.50,409.53 446.07,409.25 446.65,408.97 447.23,408.70 447.80,408.43 448.38,408.16 448.95,407.90 449.53,407.63 450.11,407.37 450.68,407.11 451.26,406.86 451.84,406.61 452.41,406.36 452.99,406.12 453.56,405.88 454.14,405.64 454.72,405.41 455.29,405.18 455.87,404.95 456.44,404.72 457.02,404.49 457.60,404.27 458.17,404.04 458.75,403.82 459.33,403.60 459.90,403.37 460.48,403.15 461.05,402.92 461.63,402.69 462.21,402.47 462.78,402.24 463.36,402.01 463.93,401.78 464.51,401.54 465.09,401.31 465.66,401.08 466.24,400.85 466.82,400.62 467.39,400.40 467.97,400.17 468.54,399.95 469.12,399.73 469.70,399.51 470.27,399.29 470.85,399.08 471.42,398.87 472.00,398.67 472.58,398.47 473.15,398.27 473.73,398.08 474.31,397.90 474.88,397.71 475.46,397.53 476.03,397.36 476.61,397.18 477.19,397.01 477.76,396.84 478.34,396.67 478.91,396.51 479.49,396.34 480.07,396.17 480.64,396.01 481.22,395.84 481.80,395.68 482.37,395.51 482.95,395.34 483.52,395.17 484.10,395.00 484.68,394.82 485.25,394.65 485.83,394.47 486.40,394.29 486.98,394.11 487.56,393.93 488.13,393.75 488.71,393.57 489.29,393.39 489.86,393.21 490.44,393.03 491.01,392.85 491.59,392.66 492.17,392.48 492.74,392.30 493.32,392.11 493.89,391.93 494.47,391.74 495.05,391.56 495.62,391.37 496.20,391.19 496.78,391.00 497.35,390.81 497.93,390.62 498.50,390.43 499.08,390.24 499.66,390.05 500.23,389.85 500.81,389.65 501.38,389.45 501.96,389.25 502.54,389.05 503.11,388.85 503.69,388.64 504.27,388.44 504.84,388.24 505.42,388.03 505.99,387.83 506.57,387.63 507.15,387.42 507.72,387.22 508.30,387.02 508.87,386.82 509.45,386.62 510.03,386.42 510.60,386.22 511.18,386.03 511.76,385.84 512.33,385.65 512.91,385.46 513.48,385.27 514.06,385.09 514.64,384.91 515.21,384.74 515.79,384.56 516.36,384.39 516.94,384.23 517.52,384.07 518.09,383.92 518.67,383.77 519.25,383.63 519.82,383.48 520.40,383.34 520.97,383.21 521.55,383.07 522.13,382.93 522.70,382.79 523.28,382.64 523.85,382.50 524.43,382.35 525.01,382.19 525.58,382.03 526.16,381.86 526.74,381.68 527.31,381.50 527.89,381.28 528.46,381.05 529.04,380.79 529.62,380.51 530.19,380.21 530.77,379.90 531.34,379.58 531.92,379.26 532.50,378.92 533.07,378.59 533.65,378.26 534.23,377.94 534.80,377.62 535.38,377.31 535.95,377.02 536.53,376.74 537.11,376.49 537.68,376.26 538.26,376.05 538.83,375.87 539.41,375.73 539.99,375.62 540.56,375.55 541.14,375.52 541.72,375.57 542.29,375.74 542.87,376.01 543.44,376.37 544.02,376.80 544.60,377.28 545.17,378.03 545.75,379.16 546.32,380.54 546.90,382.10 547.48,384.22 548.05,386.96 548.63,390.17 549.21,393.69 549.78,397.36 550.36,401.02 550.93,404.52 551.51,407.70 552.09,410.40 552.66,412.46 553.24,413.85 553.81,415.10 554.39,416.25 554.97,417.21 555.54,417.89 556.12,418.22 556.69,418.19 557.27,418.03 557.85,417.76 558.42,417.39 559.00,416.94 559.58,416.41 560.15,415.84 560.73,415.24 561.30,414.61 561.88,413.97 562.46,413.35 563.03,412.75 563.61,412.19 564.18,411.69 564.76,411.19 565.34,410.70 565.91,410.20 566.49,409.71 567.07,409.21 567.64,408.70 568.22,408.20 568.79,407.69 569.37,407.19 569.95,406.68 570.52,406.17 571.10,405.66 571.67,405.15 572.25,404.64 572.83,404.12 573.40,403.61 573.98,403.09 574.56,402.58 575.13,402.06 575.71,401.54 576.28,401.03 576.86,400.51 577.44,399.99 578.01,399.47 578.59,398.96 579.16,398.44 579.74,397.92 580.32,397.41 580.89,396.89 581.47,396.38 582.05,395.86 582.62,395.35 583.20,394.83 583.77,394.32 584.35,393.81 584.93,393.29 585.50,392.76 586.08,392.24 586.65,391.71 587.23,391.18 587.81,390.65 588.38,390.12 588.96,389.59 589.54,389.06 590.11,388.53 590.69,388.00 591.26,387.47 591.84,386.94 592.42,386.41 592.99,385.89 593.57,385.36 594.14,384.84 594.72,384.33 595.30,383.81 595.87,383.30 596.45,382.80 597.03,382.30 597.60,381.80 598.18,381.31 598.75,380.83 599.33,380.35 599.91,379.88 600.48,379.42 601.06,378.95 601.63,378.48 602.21,378.01 602.79,377.53 603.36,377.04 603.94,376.56 604.52,376.07 605.09,375.58 605.67,375.09 606.24,374.60 606.82,374.12 607.40,373.64 607.97,373.16 608.55,372.68 609.12,372.22 609.70,371.76 610.28,371.31 610.85,370.86 611.43,370.43 612.01,370.01 612.58,369.60 613.16,369.20 613.73,368.81 614.31,368.44 614.89,368.09 615.46,367.75 616.04,367.43 616.61,367.13 617.19,366.85 617.77,366.59 618.34,366.35 618.92,366.13 619.50,365.92 620.07,365.72 620.65,365.51 621.22,365.30 621.80,365.10 622.38,364.90 622.95,364.70 623.53,364.50 624.10,364.31 624.68,364.12 625.26,363.94 625.83,363.77 626.41,363.60 626.99,363.43 627.56,363.28 628.14,363.13 628.71,362.99 629.29,362.86 629.87,362.74 630.44,362.63 631.02,362.53 631.59,362.44 632.17,362.36 632.75,362.29 633.32,362.24 633.90,362.20 634.48,362.17 635.05,362.16 635.63,362.16 636.20,362.16 636.78,362.16 637.36,362.16 637.93,362.16 638.51,362.16 639.08,362.16 639.66,362.16 640.24,362.16 640.81,362.16 641.39,362.16 641.97,362.16 642.54,362.16 643.12,362.16 643.69,362.16 644.27,362.16 644.85,362.16 645.42,362.16 646.00,362.16 646.57,362.16 647.15,362.16 647.73,362.16 648.30,362.16 648.88,362.16 649.46,362.16 650.03,362.16 650.61,362.16 651.18,362.16 651.76,362.16 652.34,362.16 652.91,362.16 653.49,362.16 654.06,362.16 654.64,362.16 655.22,362.16 655.79,362.16 656.37,362.16 656.95,362.16 657.52,362.17 658.10,362.17 658.67,362.17 659.25,362.17 659.83,362.17 660.40,362.17 660.98,362.18 661.55,362.18 662.13,362.18 662.71,362.18 663.28,362.18 663.86,362.19 664.44,362.19 665.01,362.19 665.59,362.20 666.16,362.20 666.74,362.20 667.32,362.21 667.89,362.21 668.47,362.21 669.04,362.22 669.62,362.22 670.20,362.22 670.77,362.23 671.35,362.23 671.93,362.24 672.50,362.24 673.08,362.25 673.65,362.25 674.23,362.25 674.81,362.26 675.38,362.26 675.96,362.27 676.53,362.27 677.11,362.28 677.69,362.28 678.26,362.29 678.84,362.30 679.42,362.30 679.99,362.31 680.57,362.31 681.14,362.32 681.72,362.32 682.30,362.33 682.87,362.34 683.45,362.34 684.02,362.35 684.60,362.35 685.18,362.36 685.75,362.37 686.33,362.37 686.91,362.38 687.48,362.39 688.06,362.39 688.63,362.40 689.21,362.41 689.79,362.41 690.36,362.42 690.94,362.43 691.51,362.44 692.09,362.44 692.67,362.45 693.24,362.46 693.82,362.46 694.40,362.47 694.97,362.48 695.55,362.49 696.12,362.49 696.70,362.50" fill="none" stroke="#8a8a8a" stroke-width="1.0" stroke-linejoin="round" stroke-linecap="round"/>
<polyline points="409.20,534.83 409.78,534.88 410.35,534.93 410.93,534.97 411.50,535.02 412.08,535.07 412.66,535.11 413.23,535.16 413.81,535.21 414.39,535.25 414.96,535.30 415.54,535.34 416.11,535.39 416.69,535.43 417.27,535.48 417.84,535.52 418.42,535.57 418.99,535.61 419.57,535.66 420.15,535.70 420.72,535.74 421.30,535.79 421.88,535.83 422.45,535.87 423.03,535.91 423.60,535.95 424.18,535.99 424.76,536.04 425.33,536.08 425.91,536.12 426.48,536.16 427.06,536.20 427.64,536.24 428.21,536.27 428.79,536.31 429.37,536.35 429.94,536.39 430.52,536.43 431.09,536.46 431.67,536.50 432.25,536.54 432.82,536.57 433.40,536.61 433.97,536.65 434.55,536.68 435.13,536.72 435.70,536.75 436.28,536.78 436.86,536.82 437.43,536.85 438.01,536.88 438.58,536.92 439.16,536.95 439.74,536.98 440.31,537.01 440.89,537.04 441.46,537.07 442.04,537.10 442.62,537.13 443.19,537.16 443.77,537.19 444.35,537.22 444.92,537.25 445.50,537.28 446.07,537.30 446.65,537.33 447.23,537.36 447.80,537.38 448.38,537.41 448.95,537.43 449.53,537.46 450.11,537.48 450.68,537.50 451.26,537.53 451.84,537.55 452.41,537.57 452.99,537.59 453.56,537.61 454.14,537.63 454.72,537.65 455.29,537.67 455.87,537.69 456.44,537.71 457.02,537.73 457.60,537.75 458.17,537.77 458.75,537.78 459.33,537.80 459.90,537.81 460.48,537.83 461.05,537.84 461.63,537.86 462.21,537.87 462.78,537.88 463.36,537.90 463.93,537.91 464.51,537.92 465.09,537.93 465.66,537.94 466.24,537.95 466.82,537.96 467.39,537.97 467.97,537.98 468.54,537.98 469.12,537.99 469.70,538.00 470.27,538.00 470.85,538.01 471.42,538.01 472.00,538.02 472.58,538.02 473.15,538.02 473.73,538.02 474.31,538.03 474.88,538.03 475.46,538.03 476.03,538.03 476.61,538.03 477.19,538.03 477.76,538.03 478.34,538.03 478.91,538.03 479.49,538.03 480.07,538.03 480.64,538.03 481.22,538.03 481.80,538.03 482.37,538.03 482.95,538.03 483.52,538.03 484.10,538.03 484.68,538.03 485.25,538.03 485.83,538.03 486.40,538.03 486.98,538.03 487.56,538.03 488.13,538.03 488.71,538.03 489.29,538.03 489.86,538.03 490.44,538.03 491.01,538.03 491.59,538.03 492.17,538.03 492.74,538.03 493.32,538.03 493.89,538.03 494.47,538.03 495.05,538.03 495.62,538.03 496.20,538.03 496.78,538.03 497.35,538.03 497.93,538.03 498.50,538.03 499.08,538.03 499.66,538.03 500.23,538.03 500.81,538.03 501.38,538.03 501.96,538.03 502.54,538.04 503.11,538.04 503.69,538.05 504.27,538.06 504.84,538.07 505.42,538.08 505.99,538.09 506.57,538.10 507.15,538.11 507.72,538.13 508.30,538.14 508.87,538.16 509.45,538.17 510.03,538.19 510.60,538.21 511.18,538.22 511.76,538.24 512.33,538.26 512.91,538.28 513.48,538.31 514.06,538.33 514.64,538.35 515.21,538.37 515.79,538.40 516.36,538.42 516.94,538.45 517.52,538.47 518.09,538.50 518.67,538.52 519.25,538.55 519.82,538.58 520.40,538.60 520.97,538.63 521.55,538.66 522.13,538.69 522.70,538.72 523.28,538.75 523.85,538.78 524.43,538.81 525.01,538.85 525.58,538.89 526.16,538.93 526.74,538.97 527.31,539.02 527.89,539.07 528.46,539.12 529.04,539.18 529.62,539.24 530.19,539.30 530.77,539.36 531.34,539.43 531.92,539.50 532.50,539.57 533.07,539.65 533.65,539.73 534.23,539.81 534.80,539.90 535.38,539.99 535.95,540.09 536.53,540.18 537.11,540.29 537.68,540.41 538.26,540.58 538.83,540.80 539.41,541.06 539.99,541.36 540.56,541.68 541.14,542.03 541.72,542.39 542.29,542.76 542.87,543.12 543.44,543.49 544.02,543.84 544.60,544.18 545.17,544.48 545.75,544.76 546.32,545.00 546.90,545.20 547.48,545.34 548.05,545.43 548.63,545.45 549.21,545.39 549.78,545.25 550.36,545.04 550.93,544.77 551.51,544.45 552.09,544.07 552.66,543.66 553.24,543.22 553.81,542.76 554.39,542.28 554.97,541.80 555.54,541.33 556.12,540.86 556.69,540.42 557.27,540.00 557.85,539.62 558.42,539.29 559.00,539.00 559.58,538.78 560.15,538.62 560.73,538.46 561.30,538.31 561.88,538.16 562.46,538.01 563.03,537.87 563.61,537.73 564.18,537.59 564.76,537.45 565.34,537.32 565.91,537.20 566.49,537.08 567.07,536.96 567.64,536.84 568.22,536.74 568.79,536.63 569.37,536.53 569.95,536.44 570.52,536.35 571.10,536.26 571.67,536.19 572.25,536.11 572.83,536.05 573.40,535.99 573.98,535.93 574.56,535.88 575.13,535.84 575.71,535.81 576.28,535.78 576.86,535.76 577.44,535.74 578.01,535.73 578.59,535.71 579.16,535.70 579.74,535.69 580.32,535.68 580.89,535.67 581.47,535.66 582.05,535.64 582.62,535.63 583.20,535.62 583.77,535.61 584.35,535.60 584.93,535.59 585.50,535.58 586.08,535.57 586.65,535.57 587.23,535.56 587.81,535.55 588.38,535.54 588.96,535.53 589.54,535.52 590.11,535.52 590.69,535.51 591.26,535.50 591.84,535.50 592.42,535.49 592.99,535.48 593.57,535.48 594.14,535.47 594.72,535.47 595.30,535.46 595.87,535.45 596.45,535.45 597.03,535.45 597.60,535.44 598.18,535.44 598.75,535.43 599.33,535.43 599.91,535.43 600.48,535.42 601.06,535.42 601.63,535.42 602.21,535.41 602.79,535.41 603.36,535.41 603.94,535.41 604.52,535.41 605.09,535.40 605.67,535.40 606.24,535.40 606.82,535.40 607.40,535.40 607.97,535.40 608.55,535.40 609.12,535.40 609.70,535.41 610.28,535.42 610.85,535.43 611.43,535.44 612.01,535.45 612.58,535.47 613.16,535.49 613.73,535.51 614.31,535.53 614.89,535.55 615.46,535.58 616.04,535.60 616.61,535.63 617.19,535.66 617.77,535.68 618.34,535.71 618.92,535.74 619.50,535.77 620.07,535.81 620.65,535.84 621.22,535.87 621.80,535.90 622.38,535.93 622.95,535.96 623.53,536.00 624.10,536.03 624.68,536.06 625.26,536.09 625.83,536.12 626.41,536.15 626.99,536.18 627.56,536.20 628.14,536.23 628.71,536.25 629.29,536.28 629.87,536.30 630.44,536.32 631.02,536.34 631.59,536.36 632.17,536.38 632.75,536.40 633.32,536.42 633.90,536.44 634.48,536.46 635.05,536.47 635.63,536.49 636.20,536.51 636.78,536.53 637.36,536.55 637.93,536.57 638.51,536.59 639.08,536.61 639.66,536.63 640.24,536.65 640.81,536.67 641.39,536.69 641.97,536.70 642.54,536.72 643.12,536.74 643.69,536.76 644.27,536.78 644.85,536.80 645.42,536.82 646.00,536.84 646.57,536.85 647.15,536.87 647.73,536.89 648.30,536.91 648.88,536.93 649.46,536.95 650.03,536.96 650.61,536.98 651.18,537.00 651.76,537.02 652.34,537.04 652.91,537.05 653.49,537.07 654.06,537.09 654.64,537.11 655.22,537.12 655.79,537.14 656.37,537.16 656.95,537.18 657.52,537.19 658.10,537.21 658.67,537.23 659.25,537.25 659.83,537.26 660.40,537.28 660.98,537.30 661.55,537.31 662.13,537.33 662.71,537.35 663.28,537.36 663.86,537.38 664.44,537.40 665.01,537.41 665.59,537.43 666.16,537.44 666.74,537.46 667.32,537.48 667.89,537.49 668.47,537.51 669.04,537.52 669.62,537.54 670.20,537.55 670.77,537.57 671.35,537.58 671.93,537.60 672.50,537.61 673.08,537.63 673.65,537.64 674.23,537.66 674.81,537.67 675.38,537.69 675.96,537.70 676.53,537.72 677.11,537.73 677.69,537.74 678.26,537.76 678.84,537.77 679.42,537.79 679.99,537.80 680.57,537.81 681.14,537.83 681.72,537.84 682.30,537.85 682.87,537.87 683.45,537.88 684.02,537.89 684.60,537.90 685.18,537.92 685.75,537.93 686.33,537.94 686.91,537.95 687.48,537.97 688.06,537.98 688.63,537.99 689.21,538.00 689.79,538.01 690.36,538.02 690.94,538.04 691.51,538.05 692.09,538.06 692.67,538.07 693.24,538.08 693.82,538.09 694.40,538.10 694.97,538.11 695.55,538.12 696.12,538.13 696.70,538.14" fill="none" stroke="#8a8a8a" stroke-width="1.0" stroke-linejoin="round" stroke-linecap="round"/>
<polyline points="409.20,443.21 409.78,442.82 410.35,442.24 410.93,441.93 411.50,440.48 412.08,439.82 412.66,439.26 413.23,438.23 413.81,437.47 414.39,436.76 414.96,435.66 415.54,435.07 416.11,434.30 416.69,433.66 417.27,432.76 417.84,432.17 418.42,431.38 418.99,430.92 419.57,430.16 420.15,429.70 420.72,428.79 421.30,428.30 421.88,427.69 422.45,427.11 423.03,426.79 423.60,425.94 424.18,425.19 424.76,425.30 425.33,424.80 425.91,424.26 426.48,423.37 427.06,423.01 427.64,422.38 428.21,421.99 428.79,421.62 429.37,421.16 429.94,420.80 430.52,420.18 431.09,420.09 431.67,419.55 432.25,419.01 432.82,418.33 433.40,418.36 433.97,418.01 434.55,417.53 435.13,416.87 435.70,416.70 436.28,416.05 436.86,416.23 437.43,415.36 438.01,415.02 438.58,415.10 439.16,414.49 439.74,413.98 440.31,413.85 440.89,413.38 441.46,412.83 442.04,412.88 442.62,412.68 443.19,412.46 443.77,411.93 444.35,411.79 444.92,411.50 445.50,411.21 446.07,410.81 446.65,410.83 447.23,410.64 447.80,410.53 448.38,409.65 448.95,409.58 449.53,409.08 450.11,409.08 450.68,408.96 451.26,408.50 451.84,408.35 452.41,408.31 452.99,408.02 453.56,407.33 454.14,407.34 454.72,407.11 455.29,407.00 455.87,406.85 456.44,406.36 457.02,406.31 457.60,406.20 458.17,405.88 458.75,405.79 459.33,405.38 459.90,405.00 460.48,405.12 461.05,404.50 461.63,404.64 462.21,404.27 462.78,404.20 463.36,403.86 463.93,403.58 464.51,403.42 465.09,403.23 465.66,402.98 466.24,402.77 466.82,402.66 467.39,402.20 467.97,401.85 468.54,401.53 469.12,401.34 469.70,400.81 470.27,400.95 470.85,400.87 471.42,400.26 472.00,400.56 472.58,400.01 473.15,400.15 473.73,399.74 474.31,399.96 474.88,399.30 475.46,399.31 476.03,399.29 476.61,398.68 477.19,398.68 477.76,398.64 478.34,398.63 478.91,398.35 479.49,398.22 480.07,397.92 480.64,397.76 481.22,397.85 481.80,397.68 482.37,397.52 482.95,397.50 483.52,397.21 484.10,396.95 484.68,396.65 485.25,396.36 485.83,396.55 486.40,396.13 486.98,396.12 487.56,395.50 488.13,395.67 488.71,395.39 489.29,395.44 489.86,395.23 490.44,394.86 491.01,394.76 491.59,394.44 492.17,394.56 492.74,393.98 493.32,394.04 493.89,393.39 494.47,393.53 495.05,393.08 495.62,393.30 496.20,392.78 496.78,392.79 497.35,392.51 497.93,392.21 498.50,392.04 499.08,391.72 499.66,391.41 500.23,391.19 500.81,391.09 501.38,391.07 501.96,390.73 502.54,390.39 503.11,390.48 503.69,389.75 504.27,389.68 504.84,389.44 505.42,389.00 505.99,388.81 506.57,388.65 507.15,388.63 507.72,388.18 508.30,387.95 508.87,387.95 509.45,387.40 510.03,387.27 510.60,387.47 511.18,386.89 511.76,386.90 512.33,386.26 512.91,386.09 513.48,386.20 514.06,385.94 514.64,385.55 515.21,385.40 515.79,384.89 516.36,384.83 516.94,384.81 517.52,384.48 518.09,384.75 518.67,384.19 519.25,383.94 519.82,383.98 520.40,383.94 520.97,383.59 521.55,383.22 522.13,383.39 522.70,383.49 523.28,382.93 523.85,383.38 524.43,382.87 525.01,382.97 525.58,382.64 526.16,382.89 526.74,382.49 527.31,382.74 527.89,383.71 528.46,384.62 529.04,384.98 529.62,384.78 530.19,384.97 530.77,384.97 531.34,385.00 531.92,384.81 532.50,384.84 533.07,384.82 533.65,384.99 534.23,384.57 534.80,384.49 535.38,384.88 535.95,384.20 536.53,384.40 537.11,384.53 537.68,384.62 538.26,383.81 538.83,383.28 539.41,382.82 539.99,382.30 540.56,381.07 541.14,380.68 541.72,380.09 542.29,379.12 542.87,379.05 543.44,379.26 544.02,379.57 544.60,379.51 545.17,380.18 545.75,380.01 546.32,381.17 546.90,383.18 547.48,385.74 548.05,388.18 548.63,391.99 549.21,396.82 549.78,401.28 550.36,406.07 550.93,409.86 551.51,412.57 552.09,414.39 552.66,415.54 553.24,416.69 553.81,417.27 554.39,417.89 554.97,417.91 555.54,418.08 556.12,418.26 556.69,417.80 557.27,418.03 557.85,418.34 558.42,418.36 559.00,418.17 559.58,417.92 560.15,416.85 560.73,416.38 561.30,415.58 561.88,415.02 562.46,414.25 563.03,413.70 563.61,413.04 564.18,412.24 564.76,411.50" fill="none" stroke="#8c8c8c" stroke-width="2.6" stroke-linejoin="round" stroke-linecap="round"/>
<polyline points="409.20,443.24 409.78,442.73 410.35,442.16 410.93,441.51 411.50,440.79 412.08,440.02 412.66,439.20 413.23,438.37 413.81,437.51 414.39,436.66 414.96,435.83 415.54,435.02 416.11,434.25 416.69,433.53 417.27,432.83 417.84,432.15 418.42,431.48 418.99,430.82 419.57,430.18 420.15,429.55 420.72,428.93 421.30,428.33 421.88,427.75 422.45,427.18 423.03,426.62 423.60,426.07 424.18,425.54 424.76,425.02 425.33,424.50 425.91,424.00 426.48,423.51 427.06,423.04 427.64,422.57 428.21,422.11 428.79,421.66 429.37,421.21 429.94,420.77 430.52,420.33 431.09,419.90 431.67,419.47 432.25,419.05 432.82,418.64 433.40,418.23 433.97,417.83 434.55,417.43 435.13,417.04 435.70,416.66 436.28,416.28 436.86,415.91 437.43,415.55 438.01,415.20 438.58,414.85 439.16,414.52 439.74,414.19 440.31,413.86 440.89,413.55 441.46,413.23 442.04,412.93 442.62,412.63 443.19,412.33 443.77,412.04 444.35,411.75 444.92,411.47 445.50,411.19 446.07,410.92 446.65,410.65 447.23,410.38 447.80,410.12 448.38,409.85 448.95,409.59 449.53,409.34 450.11,409.08 450.68,408.83 451.26,408.58 451.84,408.34 452.41,408.10 452.99,407.86 453.56,407.63 454.14,407.40 454.72,407.18 455.29,406.95 455.87,406.73 456.44,406.51 457.02,406.29 457.60,406.07 458.17,405.85 458.75,405.63 459.33,405.42 459.90,405.19 460.48,404.97 461.05,404.75 461.63,404.52 462.21,404.29 462.78,404.06 463.36,403.82 463.93,403.59 464.51,403.35 465.09,403.11 465.66,402.87 466.24,402.63 466.82,402.39 467.39,402.15 467.97,401.92 468.54,401.68 469.12,401.45 469.70,401.23 470.27,401.01 470.85,400.79 471.42,400.58 472.00,400.38 472.58,400.18 473.15,399.99 473.73,399.81 474.31,399.63 474.88,399.46 475.46,399.29 476.03,399.12 476.61,398.96 477.19,398.81 477.76,398.65 478.34,398.50 478.91,398.35 479.49,398.20 480.07,398.04 480.64,397.89 481.22,397.74 481.80,397.59 482.37,397.43 482.95,397.27 483.52,397.10 484.10,396.94 484.68,396.76 485.25,396.59 485.83,396.41 486.40,396.22 486.98,396.04 487.56,395.85 488.13,395.67 488.71,395.48 489.29,395.28 489.86,395.09 490.44,394.89 491.01,394.70 491.59,394.50 492.17,394.30 492.74,394.09 493.32,393.89 493.89,393.68 494.47,393.48 495.05,393.27 495.62,393.06 496.20,392.85 496.78,392.64 497.35,392.42 497.93,392.21 498.50,391.99 499.08,391.77 499.66,391.54 500.23,391.31 500.81,391.07 501.38,390.84 501.96,390.60 502.54,390.36 503.11,390.12 503.69,389.88 504.27,389.64 504.84,389.40 505.42,389.16 505.99,388.92 506.57,388.69 507.15,388.46 507.72,388.23 508.30,388.01 508.87,387.80 509.45,387.58 510.03,387.36 510.60,387.13 511.18,386.91 511.76,386.68 512.33,386.46 512.91,386.23 513.48,386.01 514.06,385.79 514.64,385.57 515.21,385.36 515.79,385.16 516.36,384.96 516.94,384.76 517.52,384.58 518.09,384.41 518.67,384.24 519.25,384.09 519.82,383.95 520.40,383.82 520.97,383.69 521.55,383.56 522.13,383.42 522.70,383.30 523.28,383.17 523.85,383.06 524.43,382.96 525.01,382.87 525.58,382.80 526.16,382.75 526.74,382.72 527.31,382.79 527.89,383.41 528.46,384.29 529.04,384.92 529.62,385.00 530.19,384.99 530.77,384.98 531.34,384.96 531.92,384.93 532.50,384.90 533.07,384.87 533.65,384.82 534.23,384.78 534.80,384.72 535.38,384.66 535.95,384.60 536.53,384.52 537.11,384.45 537.68,384.30 538.26,383.92 538.83,383.38 539.41,382.71 539.99,381.99 540.56,381.26 541.14,380.58 541.72,380.01 542.29,379.60 542.87,379.41 543.44,379.42 544.02,379.49 544.60,379.62 545.17,379.79 545.75,380.03 546.32,381.04 546.90,382.96 547.48,385.47 548.05,388.27 548.63,392.01 549.21,396.85 549.78,401.43 550.36,405.93 550.93,409.65 551.51,412.26 552.09,414.33 552.66,415.67 553.24,416.66 553.81,417.38 554.39,417.69 554.97,417.83 555.54,417.95 556.12,418.04 556.69,418.12 557.27,418.17 557.85,418.21 558.42,418.23 559.00,418.16 559.58,417.67 560.15,416.93 560.73,416.16 561.30,415.51 561.88,414.85 562.46,414.17 563.03,413.47 563.61,412.77 564.18,412.07 564.76,411.39 565.34,410.71 565.91,410.06 566.49,409.41 567.07,408.75 567.64,408.09 568.22,407.42 568.79,406.76 569.37,406.10 569.95,405.45 570.52,404.80 571.10,404.15 571.67,403.52 572.25,402.89 572.83,402.28 573.40,401.68 573.98,401.10 574.56,400.53 575.13,399.98 575.71,399.45 576.28,398.94 576.86,398.45 577.44,397.99 578.01,397.55 578.59,397.13 579.16,396.72 579.74,396.32 580.32,395.94 580.89,395.56 581.47,395.19 582.05,394.82 582.62,394.45 583.20,394.07 583.77,393.69 584.35,393.30 584.93,392.90 585.50,392.50 586.08,392.09 586.65,391.69 587.23,391.28 587.81,390.87 588.38,390.47 588.96,390.06 589.54,389.65 590.11,389.24 590.69,388.83 591.26,388.42 591.84,388.01 592.42,387.60 592.99,387.19 593.57,386.77 594.14,386.36 594.72,385.94 595.30,385.52 595.87,385.10 596.45,384.68 597.03,384.26 597.60,383.84 598.18,383.41 598.75,382.99 599.33,382.56 599.91,382.13 600.48,381.70 601.06,381.26 601.63,380.81 602.21,380.35 602.79,379.88 603.36,379.40 603.94,378.92 604.52,378.43 605.09,377.93 605.67,377.43 606.24,376.92 606.82,376.42 607.40,375.91 607.97,375.40 608.55,374.90 609.12,374.40 609.70,373.90 610.28,373.40 610.85,372.91 611.43,372.43 612.01,371.96 612.58,371.49 613.16,371.03 613.73,370.59 614.31,370.16 614.89,369.74 615.46,369.33 616.04,368.94 616.61,368.57 617.19,368.22 617.77,367.88 618.34,367.56 618.92,367.27 619.50,366.98 620.07,366.69 620.65,366.41 621.22,366.13 621.80,365.85 622.38,365.57 622.95,365.30 623.53,365.03 624.10,364.77 624.68,364.51 625.26,364.26 625.83,364.01 626.41,363.77 626.99,363.53 627.56,363.31 628.14,363.09 628.71,362.88 629.29,362.68 629.87,362.49 630.44,362.31 631.02,362.14 631.59,361.98 632.17,361.83 632.75,361.69 633.32,361.56 633.90,361.45 634.48,361.35 635.05,361.27 635.63,361.19 636.20,361.12 636.78,361.05 637.36,360.98 637.93,360.91 638.51,360.84 639.08,360.78 639.66,360.72 640.24,360.66 640.81,360.60 641.39,360.55 641.97,360.50 642.54,360.45 643.12,360.41 643.69,360.37 644.27,360.33 644.85,360.30 645.42,360.28 646.00,360.25 646.57,360.24 647.15,360.23 647.73,360.22 648.30,360.24 648.88,360.44 649.46,360.81 650.03,361.29 650.61,361.85 651.18,362.41 651.76,362.95 652.34,363.40 652.91,363.73 653.49,363.87 654.06,363.87 654.64,363.85 655.22,363.82 655.79,363.78 656.37,363.73 656.95,363.67 657.52,363.60 658.10,363.52 658.67,363.43 659.25,363.34 659.83,363.25 660.40,363.15 660.98,363.04 661.55,362.94 662.13,362.83 662.71,362.72 663.28,362.61 663.86,362.50 664.44,362.40 665.01,362.29 665.59,362.19 666.16,362.10 666.74,362.01 667.32,361.93 667.89,361.85 668.47,361.78 669.04,361.72 669.62,361.67 670.20,361.63 670.77,361.61 671.35,361.59 671.93,361.59 672.50,361.63 673.08,361.70 673.65,361.80 674.23,361.93 674.81,362.09 675.38,362.27 675.96,362.47 676.53,362.68 677.11,362.90 677.69,363.13 678.26,363.36 678.84,363.59 679.42,363.81 679.99,364.03 680.57,364.23 681.14,364.42 681.72,364.59 682.30,364.74 682.87,364.86 683.45,364.95 684.02,365.00 684.60,365.01 685.18,365.01 685.75,365.00 686.33,364.98 686.91,364.96 687.48,364.93 688.06,364.89 688.63,364.84 689.21,364.78 689.79,364.72 690.36,364.64 690.94,364.55 691.51,364.46 692.09,364.35 692.67,364.23 693.24,364.11 693.82,363.96 694.40,363.81 694.97,363.65 695.55,363.47 696.12,363.28 696.70,363.07" fill="none" stroke="#8c8c8c" stroke-width="1.0" stroke-linejoin="round" stroke-linecap="round"/>
<circle cx="565.11" cy="410.95" r="1.2" fill="#8c8c8c"/>
<circle cx="566.99" cy="408.05" r="1.2" fill="#8c8c8c"/>
<circle cx="568.87" cy="405.97" r="1.2" fill="#8c8c8c"/>
<circle cx="570.75" cy="404.83" r="1.2" fill="#8c8c8c"/>
<circle cx="572.63" cy="402.66" r="1.2" fill="#8c8c8c"/>
<circle cx="574.51" cy="400.87" r="1.2" fill="#8c8c8c"/>
<circle cx="576.39" cy="398.52" r="1.2" fill="#8c8c8c"/>
<circle cx="578.27" cy="397.39" r="1.2" fill="#8c8c8c"/>
<circle cx="580.15" cy="395.62" r="1.2" fill="#8c8c8c"/>
<circle cx="582.03" cy="395.88" r="1.2" fill="#8c8c8c"/>
<circle cx="583.91" cy="392.71" r="1.2" fill="#8c8c8c"/>
<circle cx="585.79" cy="392.35" r="1.2" fill="#8c8c8c"/>
<circle cx="587.67" cy="390.58" r="1.2" fill="#8c8c8c"/>
<circle cx="589.55" cy="389.72" r="1.2" fill="#8c8c8c"/>
<circle cx="591.43" cy="388.52" r="1.2" fill="#8c8c8c"/>
<circle cx="593.31" cy="386.69" r="1.2" fill="#8c8c8c"/>
<circle cx="595.19" cy="385.13" r="1.2" fill="#8c8c8c"/>
<circle cx="597.07" cy="384.34" r="1.2" fill="#8c8c8c"/>
<circle cx="598.95" cy="382.93" r="1.2" fill="#8c8c8c"/>
<circle cx="600.83" cy="381.05" r="1.2" fill="#8c8c8c"/>
<circle cx="602.71" cy="380.44" r="1.2" fill="#8c8c8c"/>
<circle cx="604.59" cy="379.23" r="1.2" fill="#8c8c8c"/>
<circle cx="606.47" cy="376.50" r="1.2" fill="#8c8c8c"/>
<circle cx="608.35" cy="375.46" r="1.2" fill="#8c8c8c"/>
<circle cx="610.23" cy="374.54" r="1.2" fill="#8c8c8c"/>
<circle cx="612.11" cy="372.34" r="1.2" fill="#8c8c8c"/>
<circle cx="613.99" cy="370.66" r="1.2" fill="#8c8c8c"/>
<circle cx="614.87" cy="371.38" r="1.3" fill="#8c8c8c"/>
<circle cx="618.41" cy="368.60" r="1.3" fill="#8c8c8c"/>
<circle cx="621.95" cy="365.33" r="1.3" fill="#8c8c8c"/>
<circle cx="625.49" cy="364.75" r="1.3" fill="#8c8c8c"/>
<circle cx="629.03" cy="362.17" r="1.3" fill="#8c8c8c"/>
<circle cx="632.57" cy="360.81" r="1.3" fill="#8c8c8c"/>
<circle cx="636.10" cy="362.78" r="1.3" fill="#8c8c8c"/>
<circle cx="639.64" cy="359.56" r="1.3" fill="#8c8c8c"/>
<circle cx="643.18" cy="361.08" r="1.3" fill="#8c8c8c"/>
<circle cx="646.72" cy="357.84" r="1.3" fill="#8c8c8c"/>
<circle cx="650.26" cy="360.67" r="1.3" fill="#8c8c8c"/>
<circle cx="653.80" cy="364.49" r="1.3" fill="#8c8c8c"/>
<circle cx="657.33" cy="363.39" r="1.3" fill="#8c8c8c"/>
<circle cx="660.87" cy="362.82" r="1.3" fill="#8c8c8c"/>
<circle cx="664.41" cy="362.02" r="1.3" fill="#8c8c8c"/>
<circle cx="667.95" cy="360.25" r="1.3" fill="#8c8c8c"/>
<circle cx="671.49" cy="360.98" r="1.3" fill="#8c8c8c"/>
<circle cx="675.03" cy="360.26" r="1.3" fill="#8c8c8c"/>
<circle cx="678.57" cy="362.75" r="1.3" fill="#8c8c8c"/>
<circle cx="682.10" cy="364.90" r="1.3" fill="#8c8c8c"/>
<circle cx="685.64" cy="366.74" r="1.3" fill="#8c8c8c"/>
<circle cx="689.18" cy="366.57" r="1.3" fill="#8c8c8c"/>
<circle cx="692.72" cy="363.99" r="1.3" fill="#8c8c8c"/>
<circle cx="696.26" cy="362.44" r="1.3" fill="#8c8c8c"/>
<polyline points="409.20,533.91 409.77,534.77 410.34,534.33 410.91,534.57 411.48,534.62 412.05,534.66 412.63,535.04 413.20,534.80 413.77,534.98 414.34,534.33 414.91,534.93 415.48,535.10 416.05,535.16 416.62,535.29 417.19,535.43 417.76,535.38 418.33,535.30 418.90,535.49 419.48,535.35 420.05,535.62 420.62,535.65 421.19,535.45 421.76,535.69 422.33,535.93 422.90,535.94 423.47,535.88 424.04,535.70 424.61,536.14 425.18,536.19 425.75,536.04 426.33,536.42 426.90,536.38 427.47,536.24 428.04,536.35 428.61,536.49 429.18,536.44 429.75,537.10 430.32,536.49 430.89,536.88 431.46,537.05 432.03,536.77 432.60,536.75 433.18,536.99 433.75,537.15 434.32,537.01 434.89,537.07 435.46,536.86 436.03,537.02 436.60,537.15 437.17,537.04 437.74,537.30 438.31,537.47 438.88,537.25 439.45,537.28 440.03,537.45 440.60,537.59 441.17,537.44 441.74,537.94 442.31,537.43 442.88,537.49 443.45,537.88 444.02,537.62 444.59,537.82 445.16,537.54 445.73,538.04 446.30,537.87 446.88,537.62 447.45,537.56 448.02,538.15 448.59,537.89 449.16,537.77 449.73,537.95 450.30,537.59 450.87,538.09 451.44,537.84 452.01,538.10 452.58,537.70 453.15,537.97 453.73,538.05 454.30,538.30 454.87,537.73 455.44,537.91 456.01,537.93 456.58,537.88 457.15,538.04 457.72,538.23 458.29,538.27 458.86,538.29 459.43,537.94 460.00,538.44 460.58,538.31 461.15,538.28 461.72,538.20 462.29,538.16 462.86,538.49 463.43,538.58 464.00,538.31 464.57,538.11 465.14,538.21 465.71,538.31 466.28,538.42 466.85,538.33 467.43,538.44 468.00,538.27 468.57,538.56 469.14,538.42 469.71,538.47 470.28,538.37 470.85,538.44 471.42,538.05 471.99,538.25 472.56,538.26 473.13,538.88 473.70,538.60 474.28,538.65 474.85,538.47 475.42,538.96 475.99,538.38 476.56,538.41 477.13,538.82 477.70,538.78 478.27,538.75 478.84,538.62 479.41,538.52 479.98,538.29 480.55,538.68 481.13,538.52 481.70,538.64 482.27,538.37 482.84,538.55 483.41,538.45 483.98,538.87 484.55,538.72 485.12,538.83 485.69,538.44 486.26,538.59 486.83,538.76 487.40,538.78 487.98,538.63 488.55,538.83 489.12,538.87 489.69,538.63 490.26,538.29 490.83,538.76 491.40,538.81 491.97,538.91 492.54,538.94 493.11,538.62 493.68,538.57 494.25,538.71 494.83,538.66 495.40,538.69 495.97,538.69 496.54,538.97 497.11,538.79 497.68,538.69 498.25,538.85 498.82,538.79 499.39,538.85 499.96,538.77 500.53,538.57 501.10,538.79 501.68,538.75 502.25,538.59 502.82,538.62 503.39,538.45 503.96,539.11 504.53,538.62 505.10,538.87 505.67,538.78 506.24,538.67 506.81,538.65 507.38,538.68 507.95,538.85 508.53,538.63 509.10,538.98 509.67,538.98 510.24,538.84 510.81,539.10 511.38,538.67 511.95,538.89 512.52,538.72 513.09,539.13 513.66,539.23 514.23,539.17 514.80,539.10 515.38,539.36 515.95,539.23 516.52,539.34 517.09,539.09 517.66,539.52 518.23,539.27 518.80,539.59 519.37,539.68 519.94,539.68 520.51,539.80 521.08,539.61 521.65,539.50 522.23,539.68 522.80,539.64 523.37,539.51 523.94,539.78 524.51,539.84 525.08,539.96 525.65,540.24 526.22,539.88 526.79,540.36 527.36,540.00 527.93,540.17 528.50,540.03 529.08,540.29 529.65,540.48 530.22,540.34 530.79,540.56 531.36,540.57 531.93,540.60 532.50,540.71 533.07,540.80 533.64,540.99 534.21,540.96 534.78,541.39 535.35,541.14 535.93,541.42 536.50,541.12 537.07,541.20 537.64,541.88 538.21,541.69 538.78,541.95 539.35,542.37 539.92,542.39 540.49,542.88 541.06,543.44 541.63,543.54 542.20,543.88 542.78,544.20 543.35,544.79 543.92,544.83 544.49,545.14 545.06,545.77 545.63,545.97 546.20,546.11 546.77,546.40 547.34,546.16 547.91,546.52 548.48,546.77 549.05,546.69 549.63,546.43 550.20,545.82 550.77,545.96 551.34,545.56 551.91,545.09 552.48,544.73 553.05,543.85 553.62,543.81 554.19,543.06 554.76,542.62 555.33,541.99 555.90,541.75 556.48,540.72 557.05,540.54 557.62,540.05 558.19,539.78 558.76,539.37 559.33,538.83 559.90,538.51 560.47,538.33 561.04,538.04 561.61,537.92 562.18,537.85 562.75,537.53 563.33,537.40 563.90,537.35 564.47,537.06 565.04,536.81 565.61,536.85 566.18,536.82 566.75,536.51 567.32,536.19 567.89,536.44 568.46,536.31 569.03,536.21 569.60,535.88 570.18,536.30" fill="none" stroke="#8c8c8c" stroke-width="2.6" stroke-linejoin="round" stroke-linecap="round"/>
<polyline points="409.20,534.26 409.77,534.33 410.34,534.40 410.91,534.48 411.48,534.55 412.05,534.62 412.63,534.69 413.20,534.76 413.77,534.83 414.34,534.90 414.91,534.97 415.48,535.04 416.05,535.11 416.62,535.18 417.19,535.25 417.76,535.32 418.33,535.38 418.90,535.45 419.48,535.52 420.05,535.58 420.62,535.65 421.19,535.71 421.76,535.78 422.33,535.84 422.90,535.91 423.47,535.97 424.04,536.03 424.61,536.09 425.18,536.15 425.75,536.21 426.33,536.27 426.90,536.33 427.47,536.39 428.04,536.45 428.61,536.50 429.18,536.56 429.75,536.61 430.32,536.66 430.89,536.72 431.46,536.77 432.03,536.82 432.60,536.87 433.18,536.92 433.75,536.97 434.32,537.01 434.89,537.06 435.46,537.10 436.03,537.15 436.60,537.19 437.17,537.23 437.74,537.27 438.31,537.31 438.88,537.35 439.45,537.38 440.03,537.42 440.60,537.45 441.17,537.48 441.74,537.51 442.31,537.54 442.88,537.57 443.45,537.60 444.02,537.63 444.59,537.65 445.16,537.67 445.73,537.70 446.30,537.72 446.88,537.74 447.45,537.76 448.02,537.78 448.59,537.80 449.16,537.82 449.73,537.84 450.30,537.86 450.87,537.88 451.44,537.90 452.01,537.92 452.58,537.94 453.15,537.96 453.73,537.98 454.30,538.00 454.87,538.02 455.44,538.04 456.01,538.06 456.58,538.08 457.15,538.10 457.72,538.12 458.29,538.13 458.86,538.15 459.43,538.17 460.00,538.19 460.58,538.20 461.15,538.22 461.72,538.24 462.29,538.26 462.86,538.27 463.43,538.29 464.00,538.30 464.57,538.32 465.14,538.34 465.71,538.35 466.28,538.37 466.85,538.38 467.43,538.40 468.00,538.41 468.57,538.42 469.14,538.44 469.71,538.45 470.28,538.46 470.85,538.48 471.42,538.49 471.99,538.50 472.56,538.51 473.13,538.53 473.70,538.54 474.28,538.55 474.85,538.56 475.42,538.57 475.99,538.58 476.56,538.59 477.13,538.60 477.70,538.61 478.27,538.62 478.84,538.63 479.41,538.63 479.98,538.64 480.55,538.65 481.13,538.66 481.70,538.66 482.27,538.67 482.84,538.67 483.41,538.68 483.98,538.68 484.55,538.69 485.12,538.69 485.69,538.70 486.26,538.70 486.83,538.70 487.40,538.71 487.98,538.71 488.55,538.71 489.12,538.71 489.69,538.71 490.26,538.71 490.83,538.71 491.40,538.71 491.97,538.71 492.54,538.71 493.11,538.71 493.68,538.71 494.25,538.71 494.83,538.71 495.40,538.71 495.97,538.71 496.54,538.71 497.11,538.71 497.68,538.71 498.25,538.71 498.82,538.71 499.39,538.71 499.96,538.71 500.53,538.71 501.10,538.72 501.68,538.72 502.25,538.73 502.82,538.73 503.39,538.74 503.96,538.76 504.53,538.77 505.10,538.78 505.67,538.80 506.24,538.82 506.81,538.84 507.38,538.86 507.95,538.88 508.53,538.90 509.10,538.93 509.67,538.95 510.24,538.98 510.81,539.01 511.38,539.04 511.95,539.07 512.52,539.10 513.09,539.13 513.66,539.16 514.23,539.19 514.80,539.23 515.38,539.26 515.95,539.30 516.52,539.33 517.09,539.37 517.66,539.41 518.23,539.44 518.80,539.48 519.37,539.52 519.94,539.56 520.51,539.60 521.08,539.63 521.65,539.67 522.23,539.71 522.80,539.75 523.37,539.79 523.94,539.83 524.51,539.87 525.08,539.92 525.65,539.96 526.22,540.01 526.79,540.06 527.36,540.11 527.93,540.16 528.50,540.22 529.08,540.28 529.65,540.34 530.22,540.40 530.79,540.47 531.36,540.54 531.93,540.61 532.50,540.68 533.07,540.76 533.64,540.85 534.21,540.93 534.78,541.02 535.35,541.11 535.93,541.21 536.50,541.31 537.07,541.42 537.64,541.54 538.21,541.71 538.78,541.93 539.35,542.19 539.92,542.48 540.49,542.80 541.06,543.14 541.63,543.49 542.20,543.86 542.78,544.22 543.35,544.58 543.92,544.93 544.49,545.27 545.06,545.58 545.63,545.86 546.20,546.10 546.77,546.30 547.34,546.46 547.91,546.55 548.48,546.59 549.05,546.55 549.63,546.42 550.20,546.21 550.77,545.93 551.34,545.58 551.91,545.17 552.48,544.73 553.05,544.24 553.62,543.72 554.19,543.19 554.76,542.64 555.33,542.09 555.90,541.55 556.48,541.03 557.05,540.52 557.62,540.05 558.19,539.62 558.76,539.25 559.33,538.93 559.90,538.68 560.47,538.46 561.04,538.25 561.61,538.05 562.18,537.86 562.75,537.67 563.33,537.50 563.90,537.34 564.47,537.18 565.04,537.03 565.61,536.89 566.18,536.76 566.75,536.64 567.32,536.52 567.89,536.41 568.46,536.30 569.03,536.19 569.60,536.09 570.18,535.99 570.75,535.89 571.32,535.79 571.89,535.70 572.46,535.61 573.03,535.53 573.60,535.44 574.17,535.36 574.74,535.29 575.31,535.21 575.88,535.14 576.45,535.07 577.03,535.00 577.60,534.94 578.17,534.88 578.74,534.82 579.31,534.77 579.88,534.72 580.45,534.67 581.02,534.62 581.59,534.57 582.16,534.53 582.73,534.48 583.30,534.43 583.88,534.38 584.45,534.33 585.02,534.29 585.59,534.24 586.16,534.19 586.73,534.15 587.30,534.10 587.87,534.06 588.44,534.01 589.01,533.97 589.58,533.93 590.15,533.88 590.73,533.84 591.30,533.80 591.87,533.76 592.44,533.72 593.01,533.68 593.58,533.65 594.15,533.61 594.72,533.57 595.29,533.54 595.86,533.51 596.43,533.47 597.00,533.44 597.58,533.41 598.15,533.38 598.72,533.36 599.29,533.33 599.86,533.31 600.43,533.28 601.00,533.26 601.57,533.24 602.14,533.22 602.71,533.20 603.28,533.19 603.85,533.17 604.43,533.16 605.00,533.15 605.57,533.14 606.14,533.13 606.71,533.12 607.28,533.12 607.85,533.12 608.42,533.12 608.99,533.12 609.56,533.12 610.13,533.12 610.70,533.12 611.28,533.12 611.85,533.12 612.42,533.12 612.99,533.12 613.56,533.12 614.13,533.12 614.70,533.12 615.27,533.12 615.84,533.12 616.41,533.12 616.98,533.12 617.55,533.12 618.13,533.12 618.70,533.12 619.27,533.12 619.84,533.14 620.41,533.26 620.98,533.48 621.55,533.78 622.12,534.14 622.69,534.53 623.26,534.94 623.83,535.34 624.40,535.72 624.98,536.05 625.55,536.32 626.12,536.50 626.69,536.59 627.26,536.66 627.83,536.72 628.40,536.78 628.97,536.84 629.54,536.89 630.11,536.93 630.68,536.97 631.25,537.01 631.83,537.04 632.40,537.07 632.97,537.10 633.54,537.12 634.11,537.15 634.68,537.17 635.25,537.20 635.82,537.22 636.39,537.25 636.96,537.28 637.53,537.31 638.10,537.34 638.68,537.38 639.25,537.42 639.82,537.46 640.39,537.51 640.96,537.56 641.53,537.62 642.10,537.69 642.67,537.78 643.24,537.90 643.81,538.05 644.38,538.22 644.95,538.42 645.53,538.63 646.10,538.85 646.67,539.09 647.24,539.33 647.81,539.57 648.38,539.80 648.95,540.03 649.52,540.25 650.09,540.45 650.66,540.63 651.23,540.79 651.80,540.92 652.38,541.02 652.95,541.09 653.52,541.11 654.09,541.10 654.66,541.08 655.23,541.04 655.80,540.98 656.37,540.92 656.94,540.84 657.51,540.76 658.08,540.67 658.65,540.58 659.23,540.48 659.80,540.39 660.37,540.29 660.94,540.20 661.51,540.12 662.08,540.05 662.65,539.98 663.22,539.93 663.79,539.89 664.36,539.86 664.93,539.86 665.50,539.86 666.08,539.86 666.65,539.86 667.22,539.86 667.79,539.86 668.36,539.86 668.93,539.86 669.50,539.86 670.07,539.86 670.64,539.86 671.21,539.86 671.78,539.86 672.35,539.86 672.93,539.86 673.50,539.86 674.07,539.86 674.64,539.86 675.21,539.86 675.78,539.86 676.35,539.86 676.92,539.86 677.49,539.86 678.06,539.87 678.63,539.87 679.20,539.87 679.78,539.87 680.35,539.87 680.92,539.87 681.49,539.88 682.06,539.88 682.63,539.88 683.20,539.88 683.77,539.89 684.34,539.89 684.91,539.89 685.48,539.90 686.05,539.90 686.63,539.90 687.20,539.91 687.77,539.91 688.34,539.91 688.91,539.92 689.48,539.92 690.05,539.93 690.62,539.93 691.19,539.94 691.76,539.94 692.33,539.95 692.90,539.96 693.48,539.96 694.05,539.97" fill="none" stroke="#8c8c8c" stroke-width="1.0" stroke-linejoin="round" stroke-linecap="round"/>
<circle cx="570.64" cy="535.91" r="1.25" fill="#8c8c8c"/>
<circle cx="573.96" cy="534.97" r="1.25" fill="#8c8c8c"/>
<circle cx="577.28" cy="534.68" r="1.25" fill="#8c8c8c"/>
<circle cx="580.59" cy="534.37" r="1.25" fill="#8c8c8c"/>
<circle cx="583.91" cy="533.73" r="1.25" fill="#8c8c8c"/>
<circle cx="587.23" cy="534.59" r="1.25" fill="#8c8c8c"/>
<circle cx="590.55" cy="534.11" r="1.25" fill="#8c8c8c"/>
<circle cx="593.86" cy="534.16" r="1.25" fill="#8c8c8c"/>
<circle cx="597.18" cy="533.48" r="1.25" fill="#8c8c8c"/>
<circle cx="600.50" cy="532.88" r="1.25" fill="#8c8c8c"/>
<circle cx="603.82" cy="533.18" r="1.25" fill="#8c8c8c"/>
<circle cx="607.13" cy="532.92" r="1.25" fill="#8c8c8c"/>
<circle cx="610.45" cy="533.88" r="1.25" fill="#8c8c8c"/>
<circle cx="613.77" cy="533.06" r="1.25" fill="#8c8c8c"/>
<circle cx="617.08" cy="533.48" r="1.25" fill="#8c8c8c"/>
<circle cx="620.40" cy="532.55" r="1.25" fill="#8c8c8c"/>
<circle cx="623.72" cy="534.91" r="1.25" fill="#8c8c8c"/>
<circle cx="627.04" cy="536.25" r="1.25" fill="#8c8c8c"/>
<circle cx="630.35" cy="536.97" r="1.25" fill="#8c8c8c"/>
<circle cx="633.67" cy="536.88" r="1.25" fill="#8c8c8c"/>
<circle cx="636.99" cy="537.02" r="1.25" fill="#8c8c8c"/>
<circle cx="640.31" cy="537.64" r="1.25" fill="#8c8c8c"/>
<circle cx="643.62" cy="538.19" r="1.25" fill="#8c8c8c"/>
<circle cx="646.94" cy="539.25" r="1.25" fill="#8c8c8c"/>
<circle cx="650.26" cy="540.74" r="1.25" fill="#8c8c8c"/>
<circle cx="653.58" cy="541.35" r="1.25" fill="#8c8c8c"/>
<circle cx="656.89" cy="540.96" r="1.25" fill="#8c8c8c"/>
<circle cx="660.21" cy="540.61" r="1.25" fill="#8c8c8c"/>
<circle cx="663.53" cy="539.60" r="1.25" fill="#8c8c8c"/>
<circle cx="666.84" cy="540.49" r="1.25" fill="#8c8c8c"/>
<circle cx="670.16" cy="539.53" r="1.25" fill="#8c8c8c"/>
<circle cx="673.48" cy="540.11" r="1.25" fill="#8c8c8c"/>
<circle cx="676.80" cy="540.08" r="1.25" fill="#8c8c8c"/>
<circle cx="680.11" cy="540.41" r="1.25" fill="#8c8c8c"/>
<circle cx="683.43" cy="539.94" r="1.25" fill="#8c8c8c"/>
<circle cx="686.75" cy="540.00" r="1.25" fill="#8c8c8c"/>
<circle cx="690.07" cy="539.85" r="1.25" fill="#8c8c8c"/>
<circle cx="693.38" cy="540.18" r="1.25" fill="#8c8c8c"/>
<circle cx="696.70" cy="539.97" r="1.25" fill="#8c8c8c"/>
<polyline points="409.20,366.93 409.78,366.75 410.35,366.38 410.93,366.39 411.50,366.59 412.08,366.25 412.66,366.22 413.23,365.99 413.81,366.12 414.39,365.75 414.96,365.64 415.54,365.34 416.11,365.40 416.69,365.26 417.27,365.42 417.84,364.80 418.42,365.26 418.99,364.73 419.57,364.82 420.15,364.79 420.72,364.65 421.30,364.54 421.88,364.29 422.45,364.26 423.03,363.93 423.60,364.29 424.18,363.93 424.76,363.95 425.33,363.63 425.91,363.92 426.48,363.58 427.06,363.41 427.64,363.54 428.21,363.11 428.79,363.13 429.37,362.92 429.94,362.84 430.52,363.01 431.09,362.90 431.67,362.72 432.25,362.50 432.82,362.40 433.40,362.53 433.97,362.43 434.55,362.37 435.13,362.25 435.70,362.12 436.28,362.02 436.86,361.63 437.43,361.90 438.01,361.79 438.58,361.60 439.16,361.71 439.74,361.55 440.31,361.42 440.89,361.23 441.46,361.44 442.04,360.99 442.62,361.15 443.19,361.00 443.77,360.82 444.35,360.77 444.92,360.64 445.50,360.68 446.07,360.63 446.65,360.51 447.23,360.62 447.80,360.24 448.38,360.44 448.95,360.43 449.53,359.90 450.11,360.13 450.68,360.20 451.26,359.71 451.84,359.94 452.41,359.68 452.99,359.86 453.56,359.71 454.14,359.84 454.72,359.80 455.29,359.60 455.87,359.41 456.44,359.22 457.02,358.93 457.60,359.34 458.17,358.99 458.75,359.15 459.33,359.02 459.90,359.13 460.48,359.07 461.05,358.91 461.63,358.91 462.21,358.68 462.78,358.72 463.36,358.39 463.93,358.49 464.51,358.43 465.09,358.24 465.66,358.28 466.24,358.30 466.82,358.26 467.39,358.21 467.97,357.99 468.54,357.99 469.12,357.99 469.70,357.89 470.27,358.02 470.85,357.83 471.42,358.04 472.00,357.62 472.58,357.74 473.15,357.68 473.73,357.58 474.31,357.61 474.88,357.59 475.46,357.35 476.03,357.45 476.61,357.54 477.19,357.30 477.76,357.54 478.34,357.03 478.91,357.22 479.49,357.14 480.07,356.78 480.64,356.74 481.22,356.96 481.80,356.83 482.37,356.71 482.95,356.56 483.52,356.75 484.10,356.65 484.68,356.43 485.25,356.49 485.83,356.35 486.40,356.30 486.98,356.47 487.56,356.35 488.13,356.52 488.71,356.11 489.29,355.81 489.86,356.05 490.44,355.61 491.01,355.52 491.59,355.53 492.17,355.39 492.74,355.24 493.32,355.23 493.89,355.03 494.47,354.88 495.05,354.68 495.62,354.57 496.20,354.71 496.78,354.44 497.35,354.60 497.93,354.46 498.50,354.33 499.08,354.31 499.66,354.22 500.23,354.03 500.81,353.91 501.38,353.62 501.96,353.20 502.54,352.67 503.11,352.46 503.69,351.87 504.27,351.86 504.84,352.12 505.42,351.63 505.99,351.22 506.57,351.34 507.15,351.31 507.72,351.27 508.30,350.87 508.87,350.81 509.45,350.73 510.03,350.61 510.60,350.29 511.18,350.16 511.76,350.10 512.33,349.33 512.91,348.78 513.48,348.08 514.06,347.16 514.64,346.43 515.21,346.00 515.79,344.26 516.36,342.92 516.94,341.63 517.52,340.43 518.09,339.56 518.67,339.63 519.25,339.66 519.82,340.20 520.40,342.08 520.97,345.58 521.55,349.45 522.13,353.08 522.70,357.68 523.28,361.82 523.85,364.17 524.43,366.03 525.01,367.16 525.58,367.87 526.16,368.67 526.74,368.58 527.31,369.27 527.89,369.21 528.46,369.23 529.04,369.54 529.62,369.55 530.19,369.23 530.77,369.00 531.34,368.99 531.92,368.52 532.50,368.57 533.07,367.98 533.65,367.98 534.23,367.77 534.80,367.56 535.38,367.48 535.95,367.17 536.53,367.04 537.11,367.19 537.68,367.21 538.26,367.28 538.83,367.14 539.41,366.96 539.99,366.88 540.56,366.77 541.14,366.63 541.72,366.42 542.29,366.46 542.87,366.12 543.44,365.46 544.02,365.10 544.60,364.87 545.17,364.20 545.75,364.07 546.32,363.65 546.90,363.52 547.48,362.81 548.05,362.58 548.63,362.09 549.21,361.80 549.78,361.54 550.36,361.19 550.93,360.71 551.51,360.55 552.09,360.21 552.66,359.81 553.24,359.33 553.81,358.92 554.39,358.39 554.97,358.27 555.54,357.71 556.12,357.61 556.69,357.11 557.27,356.89 557.85,356.42 558.42,356.38 559.00,356.36 559.58,356.06 560.15,355.94 560.73,355.89 561.30,355.75 561.88,355.71 562.46,355.09 563.03,355.35 563.61,355.16 564.18,355.40 564.76,355.35 565.34,355.21 565.91,355.21 566.49,355.10 567.07,355.37 567.64,355.19 568.22,355.10 568.79,355.48 569.37,355.28 569.95,355.59 570.52,355.46 571.10,355.51 571.67,355.38 572.25,355.77 572.83,355.70 573.40,355.62 573.98,355.97 574.56,355.84 575.13,355.99 575.71,355.98 576.28,355.81 576.86,355.83" fill="none" stroke="#000" stroke-width="2.2" stroke-linejoin="round" stroke-linecap="round"/>
<polyline points="409.20,366.84 409.78,366.72 410.35,366.60 410.93,366.48 411.50,366.37 412.08,366.25 412.66,366.13 413.23,366.01 413.81,365.90 414.39,365.78 414.96,365.67 415.54,365.55 416.11,365.44 416.69,365.33 417.27,365.22 417.84,365.10 418.42,364.99 418.99,364.88 419.57,364.78 420.15,364.67 420.72,364.56 421.30,364.45 421.88,364.35 422.45,364.24 423.03,364.14 423.60,364.04 424.18,363.93 424.76,363.83 425.33,363.73 425.91,363.63 426.48,363.53 427.06,363.44 427.64,363.34 428.21,363.25 428.79,363.15 429.37,363.06 429.94,362.97 430.52,362.88 431.09,362.79 431.67,362.70 432.25,362.61 432.82,362.52 433.40,362.43 433.97,362.34 434.55,362.26 435.13,362.17 435.70,362.08 436.28,362.00 436.86,361.91 437.43,361.83 438.01,361.75 438.58,361.66 439.16,361.58 439.74,361.50 440.31,361.42 440.89,361.34 441.46,361.26 442.04,361.18 442.62,361.10 443.19,361.02 443.77,360.94 444.35,360.86 444.92,360.79 445.50,360.71 446.07,360.63 446.65,360.56 447.23,360.48 447.80,360.41 448.38,360.33 448.95,360.26 449.53,360.18 450.11,360.11 450.68,360.04 451.26,359.97 451.84,359.89 452.41,359.82 452.99,359.75 453.56,359.68 454.14,359.61 454.72,359.54 455.29,359.47 455.87,359.40 456.44,359.33 457.02,359.27 457.60,359.20 458.17,359.13 458.75,359.06 459.33,359.00 459.90,358.93 460.48,358.87 461.05,358.80 461.63,358.74 462.21,358.68 462.78,358.62 463.36,358.57 463.93,358.51 464.51,358.45 465.09,358.40 465.66,358.35 466.24,358.29 466.82,358.24 467.39,358.19 467.97,358.14 468.54,358.09 469.12,358.04 469.70,357.99 470.27,357.95 470.85,357.90 471.42,357.85 472.00,357.80 472.58,357.75 473.15,357.71 473.73,357.66 474.31,357.61 474.88,357.56 475.46,357.51 476.03,357.46 476.61,357.41 477.19,357.36 477.76,357.31 478.34,357.25 478.91,357.20 479.49,357.15 480.07,357.09 480.64,357.03 481.22,356.98 481.80,356.92 482.37,356.86 482.95,356.79 483.52,356.73 484.10,356.66 484.68,356.60 485.25,356.53 485.83,356.46 486.40,356.39 486.98,356.31 487.56,356.23 488.13,356.15 488.71,356.07 489.29,355.99 489.86,355.89 490.44,355.78 491.01,355.66 491.59,355.53 492.17,355.39 492.74,355.25 493.32,355.11 493.89,354.99 494.47,354.87 495.05,354.77 495.62,354.68 496.20,354.61 496.78,354.55 497.35,354.50 497.93,354.44 498.50,354.38 499.08,354.30 499.66,354.21 500.23,354.07 500.81,353.84 501.38,353.53 501.96,353.18 502.54,352.81 503.11,352.45 503.69,352.13 504.27,351.89 504.84,351.72 505.42,351.57 505.99,351.45 506.57,351.34 507.15,351.25 507.72,351.15 508.30,351.06 508.87,350.95 509.45,350.82 510.03,350.67 510.60,350.49 511.18,350.27 511.76,349.93 512.33,349.43 512.91,348.80 513.48,348.07 514.06,347.27 514.64,346.44 515.21,345.60 515.79,344.47 516.36,343.06 516.94,341.61 517.52,340.37 518.09,339.59 518.67,339.46 519.25,339.71 519.82,340.17 520.40,342.03 520.97,345.45 521.55,349.36 522.13,353.23 522.70,357.86 523.28,361.89 523.85,364.17 524.43,365.91 525.01,367.26 525.58,368.09 526.16,368.45 526.74,368.74 527.31,368.98 527.89,369.16 528.46,369.29 529.04,369.35 529.62,369.34 530.19,369.26 530.77,369.12 531.34,368.92 531.92,368.70 532.50,368.46 533.07,368.22 533.65,368.00 534.23,367.80 534.80,367.64 535.38,367.53 535.95,367.43 536.53,367.34 537.11,367.26 537.68,367.19 538.26,367.12 538.83,367.04 539.41,366.96 539.99,366.87 540.56,366.76 541.14,366.63 541.72,366.49 542.29,366.27 542.87,365.98 543.44,365.62 544.02,365.22 544.60,364.80 545.17,364.38 545.75,363.98 546.32,363.62 546.90,363.27 547.48,362.92 548.05,362.58 548.63,362.24 549.21,361.89 549.78,361.55 550.36,361.21 550.93,360.87 551.51,360.53 552.09,360.19 552.66,359.82 553.24,359.44 553.81,359.05 554.39,358.65 554.97,358.26 555.54,357.89 556.12,357.53 556.69,357.20 557.27,356.91 557.85,356.66 558.42,356.47 559.00,356.30 559.58,356.15 560.15,355.99 560.73,355.85 561.30,355.71 561.88,355.59 562.46,355.48 563.03,355.38 563.61,355.30 564.18,355.24 564.76,355.21 565.34,355.19 565.91,355.20 566.49,355.22 567.07,355.24 567.64,355.27 568.22,355.31 568.79,355.36 569.37,355.41 569.95,355.46 570.52,355.52 571.10,355.57 571.67,355.63 572.25,355.68 572.83,355.73 573.40,355.77 573.98,355.81 574.56,355.85 575.13,355.87 575.71,355.89 576.28,355.91 576.86,355.93 577.44,355.95 578.01,355.96 578.59,355.98 579.16,356.00 579.74,356.01 580.32,356.03 580.89,356.04 581.47,356.05 582.05,356.07 582.62,356.08 583.20,356.09 583.77,356.09 584.35,356.10 584.93,356.10 585.50,356.11 586.08,356.11 586.65,356.11 587.23,356.11 587.81,356.11 588.38,356.10 588.96,356.10 589.54,356.10 590.11,356.09 590.69,356.09 591.26,356.09 591.84,356.08 592.42,356.08 592.99,356.07 593.57,356.07 594.14,356.06 594.72,356.05 595.30,356.05 595.87,356.04 596.45,356.03 597.03,356.02 597.60,356.01 598.18,356.00 598.75,356.00 599.33,355.99 599.91,355.98 600.48,355.97 601.06,355.96 601.63,355.95 602.21,355.94 602.79,355.92 603.36,355.91 603.94,355.90 604.52,355.89 605.09,355.88 605.67,355.87 606.24,355.85 606.82,355.84 607.40,355.83 607.97,355.82 608.55,355.80 609.12,355.79 609.70,355.78 610.28,355.77 610.85,355.75 611.43,355.74 612.01,355.73 612.58,355.71 613.16,355.70 613.73,355.69 614.31,355.68 614.89,355.66 615.46,355.65 616.04,355.64 616.61,355.62 617.19,355.61 617.77,355.60 618.34,355.59 618.92,355.57 619.50,355.56 620.07,355.55 620.65,355.54 621.22,355.52 621.80,355.51 622.38,355.50 622.95,355.48 623.53,355.46 624.10,355.45 624.68,355.43 625.26,355.41 625.83,355.39 626.41,355.38 626.99,355.36 627.56,355.34 628.14,355.32 628.71,355.29 629.29,355.27 629.87,355.25 630.44,355.23 631.02,355.21 631.59,355.19 632.17,355.16 632.75,355.14 633.32,355.12 633.90,355.10 634.48,355.08 635.05,355.05 635.63,355.03 636.20,355.01 636.78,354.99 637.36,354.97 637.93,354.94 638.51,354.92 639.08,354.90 639.66,354.88 640.24,354.86 640.81,354.84 641.39,354.82 641.97,354.81 642.54,354.79 643.12,354.77 643.69,354.76 644.27,354.74 644.85,354.73 645.42,354.71 646.00,354.70 646.57,354.69 647.15,354.68 647.73,354.66 648.30,354.66 648.88,354.65 649.46,354.64 650.03,354.63 650.61,354.63 651.18,354.63 651.76,354.62 652.34,354.62 652.91,354.62 653.49,354.62 654.06,354.62 654.64,354.62 655.22,354.62 655.79,354.62 656.37,354.62 656.95,354.62 657.52,354.62 658.10,354.62 658.67,354.62 659.25,354.62 659.83,354.62 660.40,354.62 660.98,354.62 661.55,354.62 662.13,354.63 662.71,354.63 663.28,354.63 663.86,354.63 664.44,354.63 665.01,354.63 665.59,354.63 666.16,354.63 666.74,354.63 667.32,354.63 667.89,354.63 668.47,354.63 669.04,354.63 669.62,354.64 670.20,354.64 670.77,354.64 671.35,354.64 671.93,354.64 672.50,354.64 673.08,354.65 673.65,354.65 674.23,354.65 674.81,354.65 675.38,354.65 675.96,354.66 676.53,354.66 677.11,354.66 677.69,354.67 678.26,354.67 678.84,354.67 679.42,354.67 679.99,354.68 680.57,354.68 681.14,354.69 681.72,354.69 682.30,354.69 682.87,354.70 683.45,354.70 684.02,354.71 684.60,354.71 685.18,354.72 685.75,354.72 686.33,354.73 686.91,354.73 687.48,354.74 688.06,354.74 688.63,354.75 689.21,354.75 689.79,354.76 690.36,354.77 690.94,354.77 691.51,354.78 692.09,354.79 692.67,354.79 693.24,354.80 693.82,354.81 694.40,354.82 694.97,354.83 695.55,354.83 696.12,354.84 696.70,354.85" fill="none" stroke="#000" stroke-width="1.1" stroke-linejoin="round" stroke-linecap="round"/>
<circle cx="568.43" cy="354.29" r="1.2" fill="#000"/>
<circle cx="571.75" cy="357.39" r="1.2" fill="#000"/>
<circle cx="575.07" cy="355.32" r="1.2" fill="#000"/>
<circle cx="578.38" cy="355.94" r="1.2" fill="#000"/>
<circle cx="581.70" cy="355.31" r="1.2" fill="#000"/>
<circle cx="585.02" cy="355.88" r="1.2" fill="#000"/>
<circle cx="588.33" cy="355.06" r="1.2" fill="#000"/>
<circle cx="591.65" cy="356.07" r="1.2" fill="#000"/>
<circle cx="594.97" cy="356.34" r="1.2" fill="#000"/>
<circle cx="598.29" cy="355.67" r="1.2" fill="#000"/>
<circle cx="601.60" cy="355.70" r="1.2" fill="#000"/>
<circle cx="604.92" cy="356.09" r="1.2" fill="#000"/>
<circle cx="608.24" cy="355.95" r="1.2" fill="#000"/>
<circle cx="611.56" cy="355.33" r="1.2" fill="#000"/>
<circle cx="614.87" cy="355.26" r="1.2" fill="#000"/>
<circle cx="618.19" cy="355.87" r="1.2" fill="#000"/>
<circle cx="621.51" cy="355.73" r="1.2" fill="#000"/>
<circle cx="624.83" cy="356.46" r="1.2" fill="#000"/>
<circle cx="628.14" cy="354.36" r="1.2" fill="#000"/>
<circle cx="631.46" cy="355.32" r="1.2" fill="#000"/>
<circle cx="634.78" cy="354.30" r="1.2" fill="#000"/>
<circle cx="638.09" cy="354.70" r="1.2" fill="#000"/>
<circle cx="641.41" cy="353.71" r="1.2" fill="#000"/>
<circle cx="644.73" cy="353.85" r="1.2" fill="#000"/>
<circle cx="648.05" cy="354.48" r="1.2" fill="#000"/>
<circle cx="651.36" cy="353.78" r="1.2" fill="#000"/>
<circle cx="654.68" cy="355.17" r="1.2" fill="#000"/>
<circle cx="658.00" cy="353.90" r="1.2" fill="#000"/>
<circle cx="661.32" cy="355.47" r="1.2" fill="#000"/>
<circle cx="664.63" cy="354.43" r="1.2" fill="#000"/>
<circle cx="667.95" cy="354.02" r="1.2" fill="#000"/>
<circle cx="671.27" cy="354.51" r="1.2" fill="#000"/>
<circle cx="674.58" cy="354.86" r="1.2" fill="#000"/>
<circle cx="677.90" cy="355.13" r="1.2" fill="#000"/>
<circle cx="681.22" cy="354.88" r="1.2" fill="#000"/>
<circle cx="684.54" cy="354.11" r="1.2" fill="#000"/>
<circle cx="687.85" cy="354.23" r="1.2" fill="#000"/>
<circle cx="691.17" cy="354.93" r="1.2" fill="#000"/>
<circle cx="694.49" cy="355.53" r="1.2" fill="#000"/>
<polyline points="409.20,514.75 409.78,514.84 410.35,514.66 410.93,514.55 411.50,514.42 412.08,514.60 412.66,514.71 413.23,514.75 413.81,514.49 414.39,514.34 414.96,514.57 415.54,514.83 416.11,514.78 416.69,514.34 417.27,514.58 417.84,514.91 418.42,514.63 418.99,514.82 419.57,514.73 420.15,514.70 420.72,514.74 421.30,514.52 421.88,514.63 422.45,514.72 423.03,514.55 423.60,514.48 424.18,514.90 424.76,514.66 425.33,514.79 425.91,514.65 426.48,514.84 427.06,514.62 427.64,514.63 428.21,514.67 428.79,514.80 429.37,514.69 429.94,514.81 430.52,514.86 431.09,514.59 431.67,514.82 432.25,514.43 432.82,514.50 433.40,514.97 433.97,514.58 434.55,514.82 435.13,514.62 435.70,514.62 436.28,514.97 436.86,514.67 437.43,514.67 438.01,514.47 438.58,514.83 439.16,514.51 439.74,514.82 440.31,514.69 440.89,514.78 441.46,514.39 442.04,514.54 442.62,514.22 443.19,514.53 443.77,514.49 444.35,514.50 444.92,514.74 445.50,514.65 446.07,514.41 446.65,514.71 447.23,514.61 447.80,514.65 448.38,514.54 448.95,514.71 449.53,514.67 450.11,514.61 450.68,514.63 451.26,514.80 451.84,514.50 452.41,514.88 452.99,514.86 453.56,514.88 454.14,514.49 454.72,514.72 455.29,514.83 455.87,514.86 456.44,514.59 457.02,514.84 457.60,514.88 458.17,514.56 458.75,514.87 459.33,514.72 459.90,514.67 460.48,514.75 461.05,514.68 461.63,514.45 462.21,514.77 462.78,514.89 463.36,514.99 463.93,514.72 464.51,514.74 465.09,514.64 465.66,514.77 466.24,514.77 466.82,514.81 467.39,514.78 467.97,514.67 468.54,514.76 469.12,514.68 469.70,514.37 470.27,514.62 470.85,514.97 471.42,514.41 472.00,514.65 472.58,514.87 473.15,514.56 473.73,514.71 474.31,514.82 474.88,514.83 475.46,514.89 476.03,514.71 476.61,514.54 477.19,514.78 477.76,514.66 478.34,514.41 478.91,514.94 479.49,514.69 480.07,514.79 480.64,514.92 481.22,514.92 481.80,514.75 482.37,514.67 482.95,514.84 483.52,514.75 484.10,514.63 484.68,514.71 485.25,514.61 485.83,514.69 486.40,514.68 486.98,514.46 487.56,514.67 488.13,514.75 488.71,514.66 489.29,514.94 489.86,514.84 490.44,514.65 491.01,514.68 491.59,514.53 492.17,514.80 492.74,515.05 493.32,514.47 493.89,514.62 494.47,514.99 495.05,514.58 495.62,514.81 496.20,515.13 496.78,514.90 497.35,514.92 497.93,514.56 498.50,514.97 499.08,514.88 499.66,514.89 500.23,514.91 500.81,515.01 501.38,514.83 501.96,514.70 502.54,514.79 503.11,515.09 503.69,515.16 504.27,514.97 504.84,515.16 505.42,515.19 505.99,515.42 506.57,514.86 507.15,515.10 507.72,515.49 508.30,515.24 508.87,515.25 509.45,515.98 510.03,515.76 510.60,515.83 511.18,515.76 511.76,516.00 512.33,516.14 512.91,516.24 513.48,516.05 514.06,516.14 514.64,516.75 515.21,517.06 515.79,516.89 516.36,518.11 516.94,518.75 517.52,519.42 518.09,520.14 518.67,521.19 519.25,522.81 519.82,524.63 520.40,525.86 520.97,526.96 521.55,527.09 522.13,527.22 522.70,526.95 523.28,526.19 523.85,524.91 524.43,524.34 525.01,523.75 525.58,522.75 526.16,522.11 526.74,521.44 527.31,521.37 527.89,520.65 528.46,520.22 529.04,520.08 529.62,519.62 530.19,518.92 530.77,518.59 531.34,518.41 531.92,518.18 532.50,517.74 533.07,517.67 533.65,517.39 534.23,517.26 534.80,516.84 535.38,516.57 535.95,515.81 536.53,516.04 537.11,515.51 537.68,515.23 538.26,515.22 538.83,514.73 539.41,515.06 539.99,514.44 540.56,514.10 541.14,514.46 541.72,514.07 542.29,513.53 542.87,513.63 543.44,513.67 544.02,513.47 544.60,513.46 545.17,513.24 545.75,513.28 546.32,513.41 546.90,513.49 547.48,513.39 548.05,513.16 548.63,513.34 549.21,513.30 549.78,513.45 550.36,513.66 550.93,513.58 551.51,513.37 552.09,513.48 552.66,513.68 553.24,513.82 553.81,513.55 554.39,513.66 554.97,513.69 555.54,513.71 556.12,513.64 556.69,513.66 557.27,513.58 557.85,513.62 558.42,513.59 559.00,513.72 559.58,514.00 560.15,514.05 560.73,514.07 561.30,514.35 561.88,514.35 562.46,514.40 563.03,514.88 563.61,515.20 564.18,514.84 564.76,515.18 565.34,515.18 565.91,515.63 566.49,515.18 567.07,515.39 567.64,515.55 568.22,515.59 568.79,515.51 569.37,515.56 569.95,515.58 570.52,515.72 571.10,515.31 571.67,515.54 572.25,515.52 572.83,515.51 573.40,515.93 573.98,515.44 574.56,515.59 575.13,515.58 575.71,515.52 576.28,515.70 576.86,515.39 577.44,515.65 578.01,515.69 578.59,515.68 579.16,515.50 579.74,515.40 580.32,515.63 580.89,515.79 581.47,515.35" fill="none" stroke="#000" stroke-width="2.3" stroke-linejoin="round" stroke-linecap="round"/>
<polyline points="409.20,514.62 409.78,514.62 410.35,514.62 410.93,514.62 411.50,514.62 412.08,514.62 412.66,514.62 413.23,514.62 413.81,514.62 414.39,514.62 414.96,514.62 415.54,514.62 416.11,514.62 416.69,514.62 417.27,514.62 417.84,514.62 418.42,514.62 418.99,514.62 419.57,514.62 420.15,514.62 420.72,514.62 421.30,514.62 421.88,514.62 422.45,514.62 423.03,514.62 423.60,514.62 424.18,514.62 424.76,514.62 425.33,514.62 425.91,514.62 426.48,514.62 427.06,514.62 427.64,514.62 428.21,514.62 428.79,514.62 429.37,514.62 429.94,514.62 430.52,514.62 431.09,514.62 431.67,514.63 432.25,514.63 432.82,514.63 433.40,514.63 433.97,514.63 434.55,514.63 435.13,514.63 435.70,514.63 436.28,514.63 436.86,514.63 437.43,514.63 438.01,514.63 438.58,514.63 439.16,514.63 439.74,514.63 440.31,514.63 440.89,514.63 441.46,514.64 442.04,514.64 442.62,514.64 443.19,514.64 443.77,514.64 444.35,514.64 444.92,514.64 445.50,514.64 446.07,514.64 446.65,514.64 447.23,514.64 447.80,514.65 448.38,514.65 448.95,514.65 449.53,514.65 450.11,514.65 450.68,514.65 451.26,514.65 451.84,514.65 452.41,514.65 452.99,514.65 453.56,514.66 454.14,514.66 454.72,514.66 455.29,514.66 455.87,514.66 456.44,514.66 457.02,514.66 457.60,514.67 458.17,514.67 458.75,514.67 459.33,514.67 459.90,514.67 460.48,514.67 461.05,514.67 461.63,514.68 462.21,514.68 462.78,514.68 463.36,514.68 463.93,514.68 464.51,514.68 465.09,514.69 465.66,514.69 466.24,514.69 466.82,514.69 467.39,514.69 467.97,514.69 468.54,514.70 469.12,514.70 469.70,514.70 470.27,514.70 470.85,514.70 471.42,514.71 472.00,514.71 472.58,514.71 473.15,514.71 473.73,514.71 474.31,514.72 474.88,514.72 475.46,514.72 476.03,514.72 476.61,514.72 477.19,514.73 477.76,514.73 478.34,514.73 478.91,514.73 479.49,514.74 480.07,514.74 480.64,514.74 481.22,514.74 481.80,514.75 482.37,514.75 482.95,514.75 483.52,514.75 484.10,514.76 484.68,514.76 485.25,514.76 485.83,514.77 486.40,514.77 486.98,514.77 487.56,514.77 488.13,514.78 488.71,514.78 489.29,514.78 489.86,514.79 490.44,514.79 491.01,514.79 491.59,514.79 492.17,514.80 492.74,514.80 493.32,514.80 493.89,514.81 494.47,514.81 495.05,514.81 495.62,514.82 496.20,514.82 496.78,514.82 497.35,514.83 497.93,514.83 498.50,514.84 499.08,514.84 499.66,514.84 500.23,514.85 500.81,514.85 501.38,514.86 501.96,514.88 502.54,514.90 503.11,514.93 503.69,514.96 504.27,514.99 504.84,515.03 505.42,515.08 505.99,515.13 506.57,515.19 507.15,515.25 507.72,515.32 508.30,515.40 508.87,515.48 509.45,515.57 510.03,515.66 510.60,515.76 511.18,515.87 511.76,515.98 512.33,516.10 512.91,516.23 513.48,516.37 514.06,516.51 514.64,516.66 515.21,516.90 515.79,517.35 516.36,517.94 516.94,518.65 517.52,519.42 518.09,520.22 518.67,521.37 519.25,522.87 519.82,524.48 520.40,525.94 520.97,527.00 521.55,527.41 522.13,527.22 522.70,526.73 523.28,526.01 523.85,525.15 524.43,524.25 525.01,523.39 525.58,522.65 526.16,522.11 526.74,521.64 527.31,521.19 527.89,520.76 528.46,520.35 529.04,519.96 529.62,519.58 530.19,519.23 530.77,518.88 531.34,518.55 531.92,518.24 532.50,517.94 533.07,517.65 533.65,517.37 534.23,517.11 534.80,516.84 535.38,516.56 535.95,516.28 536.53,516.00 537.11,515.73 537.68,515.46 538.26,515.19 538.83,514.93 539.41,514.69 539.99,514.46 540.56,514.24 541.14,514.04 541.72,513.87 542.29,513.71 542.87,513.58 543.44,513.48 544.02,513.41 544.60,513.37 545.17,513.36 545.75,513.36 546.32,513.37 546.90,513.37 547.48,513.38 548.05,513.39 548.63,513.40 549.21,513.41 549.78,513.43 550.36,513.44 550.93,513.46 551.51,513.48 552.09,513.50 552.66,513.52 553.24,513.55 553.81,513.57 554.39,513.60 554.97,513.63 555.54,513.65 556.12,513.68 556.69,513.71 557.27,513.75 557.85,513.78 558.42,513.81 559.00,513.86 559.58,513.94 560.15,514.04 560.73,514.16 561.30,514.29 561.88,514.44 562.46,514.59 563.03,514.75 563.61,514.90 564.18,515.05 564.76,515.18 565.34,515.30 565.91,515.40 566.49,515.47 567.07,515.52 567.64,515.53 568.22,515.53 568.79,515.53 569.37,515.53 569.95,515.53 570.52,515.53 571.10,515.53 571.67,515.53 572.25,515.53 572.83,515.53 573.40,515.53 573.98,515.53 574.56,515.53 575.13,515.53 575.71,515.53 576.28,515.53 576.86,515.53 577.44,515.53 578.01,515.53 578.59,515.53 579.16,515.53 579.74,515.53 580.32,515.53 580.89,515.53 581.47,515.53 582.05,515.53 582.62,515.53 583.20,515.53 583.77,515.53 584.35,515.53 584.93,515.53 585.50,515.53 586.08,515.53 586.65,515.53 587.23,515.53 587.81,515.53 588.38,515.53 588.96,515.53 589.54,515.53 590.11,515.53 590.69,515.53 591.26,515.53 591.84,515.53 592.42,515.53 592.99,515.53 593.57,515.53 594.14,515.53 594.72,515.53 595.30,515.53 595.87,515.53 596.45,515.53 597.03,515.53 597.60,515.53 598.18,515.53 598.75,515.53 599.33,515.53 599.91,515.53 600.48,515.53 601.06,515.53 601.63,515.53 602.21,515.53 602.79,515.53 603.36,515.53 603.94,515.53 604.52,515.53 605.09,515.53 605.67,515.53 606.24,515.53 606.82,515.53 607.40,515.53 607.97,515.53 608.55,515.53 609.12,515.53 609.70,515.53 610.28,515.53 610.85,515.53 611.43,515.53 612.01,515.53 612.58,515.53 613.16,515.53 613.73,515.53 614.31,515.53 614.89,515.53 615.46,515.53 616.04,515.53 616.61,515.53 617.19,515.53 617.77,515.53 618.34,515.53 618.92,515.53 619.50,515.53 620.07,515.53 620.65,515.53 621.22,515.53 621.80,515.53 622.38,515.53 622.95,515.53 623.53,515.53 624.10,515.53 624.68,515.53 625.26,515.53 625.83,515.53 626.41,515.53 626.99,515.53 627.56,515.53 628.14,515.53 628.71,515.53 629.29,515.53 629.87,515.53 630.44,515.53 631.02,515.53 631.59,515.53 632.17,515.53 632.75,515.53 633.32,515.53 633.90,515.53 634.48,515.53 635.05,515.53 635.63,515.53 636.20,515.53 636.78,515.53 637.36,515.53 637.93,515.53 638.51,515.53 639.08,515.53 639.66,515.53 640.24,515.53 640.81,515.53 641.39,515.53 641.97,515.53 642.54,515.53 643.12,515.53 643.69,515.53 644.27,515.53 644.85,515.53 645.42,515.53 646.00,515.53 646.57,515.53 647.15,515.53 647.73,515.53 648.30,515.53 648.88,515.53 649.46,515.53 650.03,515.53 650.61,515.53 651.18,515.53 651.76,515.53 652.34,515.53 652.91,515.53 653.49,515.53 654.06,515.53 654.64,515.53 655.22,515.53 655.79,515.53 656.37,515.53 656.95,515.53 657.52,515.53 658.10,515.53 658.67,515.53 659.25,515.53 659.83,515.53 660.40,515.53 660.98,515.53 661.55,515.53 662.13,515.53 662.71,515.53 663.28,515.53 663.86,515.53 664.44,515.53 665.01,515.53 665.59,515.53 666.16,515.53 666.74,515.53 667.32,515.53 667.89,515.53 668.47,515.53 669.04,515.53 669.62,515.53 670.20,515.53 670.77,515.53 671.35,515.53 671.93,515.53 672.50,515.53 673.08,515.53 673.65,515.53 674.23,515.53 674.81,515.53 675.38,515.53 675.96,515.53 676.53,515.53 677.11,515.53 677.69,515.53 678.26,515.53 678.84,515.53 679.42,515.53 679.99,515.53 680.57,515.53 681.14,515.53 681.72,515.53 682.30,515.53 682.87,515.53 683.45,515.53 684.02,515.53 684.60,515.53 685.18,515.53 685.75,515.53 686.33,515.53 686.91,515.53 687.48,515.53 688.06,515.53 688.63,515.53 689.21,515.53 689.79,515.53 690.36,515.53 690.94,515.53 691.51,515.53 692.09,515.53 692.67,515.53 693.24,515.53 693.82,515.53 694.40,515.53 694.97,515.53 695.55,515.53 696.12,515.53 696.70,515.53" fill="none" stroke="#000" stroke-width="1.0" stroke-linejoin="round" stroke-linecap="round"/>
<circle cx="581.70" cy="515.17" r="1.15" fill="#000"/>
<circle cx="585.24" cy="516.03" r="1.15" fill="#000"/>
<circle cx="588.78" cy="516.34" r="1.15" fill="#000"/>
<circle cx="592.32" cy="517.03" r="1.15" fill="#000"/>
<circle cx="595.85" cy="515.71" r="1.15" fill="#000"/>
<circle cx="599.39" cy="514.89" r="1.15" fill="#000"/>
<circle cx="602.93" cy="515.51" r="1.15" fill="#000"/>
<circle cx="606.47" cy="515.27" r="1.15" fill="#000"/>
<circle cx="610.01" cy="515.00" r="1.15" fill="#000"/>
<circle cx="613.55" cy="515.98" r="1.15" fill="#000"/>
<circle cx="617.08" cy="514.17" r="1.15" fill="#000"/>
<circle cx="620.62" cy="515.98" r="1.15" fill="#000"/>
<circle cx="624.16" cy="515.34" r="1.15" fill="#000"/>
<circle cx="627.70" cy="514.12" r="1.15" fill="#000"/>
<circle cx="631.24" cy="515.59" r="1.15" fill="#000"/>
<circle cx="634.78" cy="515.47" r="1.15" fill="#000"/>
<circle cx="638.32" cy="515.79" r="1.15" fill="#000"/>
<circle cx="641.85" cy="515.36" r="1.15" fill="#000"/>
<circle cx="645.39" cy="516.62" r="1.15" fill="#000"/>
<circle cx="648.93" cy="515.86" r="1.15" fill="#000"/>
<circle cx="652.47" cy="514.66" r="1.15" fill="#000"/>
<circle cx="656.01" cy="515.42" r="1.15" fill="#000"/>
<circle cx="659.55" cy="515.65" r="1.15" fill="#000"/>
<circle cx="663.08" cy="515.34" r="1.15" fill="#000"/>
<circle cx="666.62" cy="515.32" r="1.15" fill="#000"/>
<circle cx="670.16" cy="515.45" r="1.15" fill="#000"/>
<circle cx="673.70" cy="515.23" r="1.15" fill="#000"/>
<circle cx="677.24" cy="516.38" r="1.15" fill="#000"/>
<circle cx="680.78" cy="515.23" r="1.15" fill="#000"/>
<circle cx="684.32" cy="515.88" r="1.15" fill="#000"/>
<circle cx="687.85" cy="515.13" r="1.15" fill="#000"/>
<circle cx="691.39" cy="515.54" r="1.15" fill="#000"/>
<circle cx="694.93" cy="516.04" r="1.15" fill="#000"/>
<text x="642.5" y="350.5" font-size="14" textLength="33" lengthAdjust="spacingAndGlyphs">Δ SiO</text><text x="675.8" y="353.5" font-size="10">2</text>
<text x="642.5" y="377.3" font-size="14" fill="#a0a0a0" textLength="33" lengthAdjust="spacingAndGlyphs">Δ SiN</text>
<text x="653.5" y="511.5" font-size="14" textLength="35.5" lengthAdjust="spacingAndGlyphs">Ψ SiO</text><text x="689.3" y="514.5" font-size="10">2</text>
<text x="654" y="535.3" font-size="14" fill="#a0a0a0" textLength="35.5" lengthAdjust="spacingAndGlyphs">Ψ SiN</text>
<text transform="translate(369,472) rotate(-90)" font-size="15.5">Angle (°)</text>
<text x="542.30" y="597.70" font-size="15" text-anchor="middle" fill="#000">λ</text>
<text x="553.00" y="597.70" font-size="15" text-anchor="middle" fill="#000">(</text>
<text x="561.00" y="597.70" font-size="15" text-anchor="middle" fill="#000" style="font-style:italic">μ</text>
<text x="573.70" y="597.70" font-size="15" text-anchor="middle" fill="#000">m</text>
<text x="582.80" y="597.70" font-size="15" text-anchor="middle" fill="#000">)</text>
</svg></body></html>
